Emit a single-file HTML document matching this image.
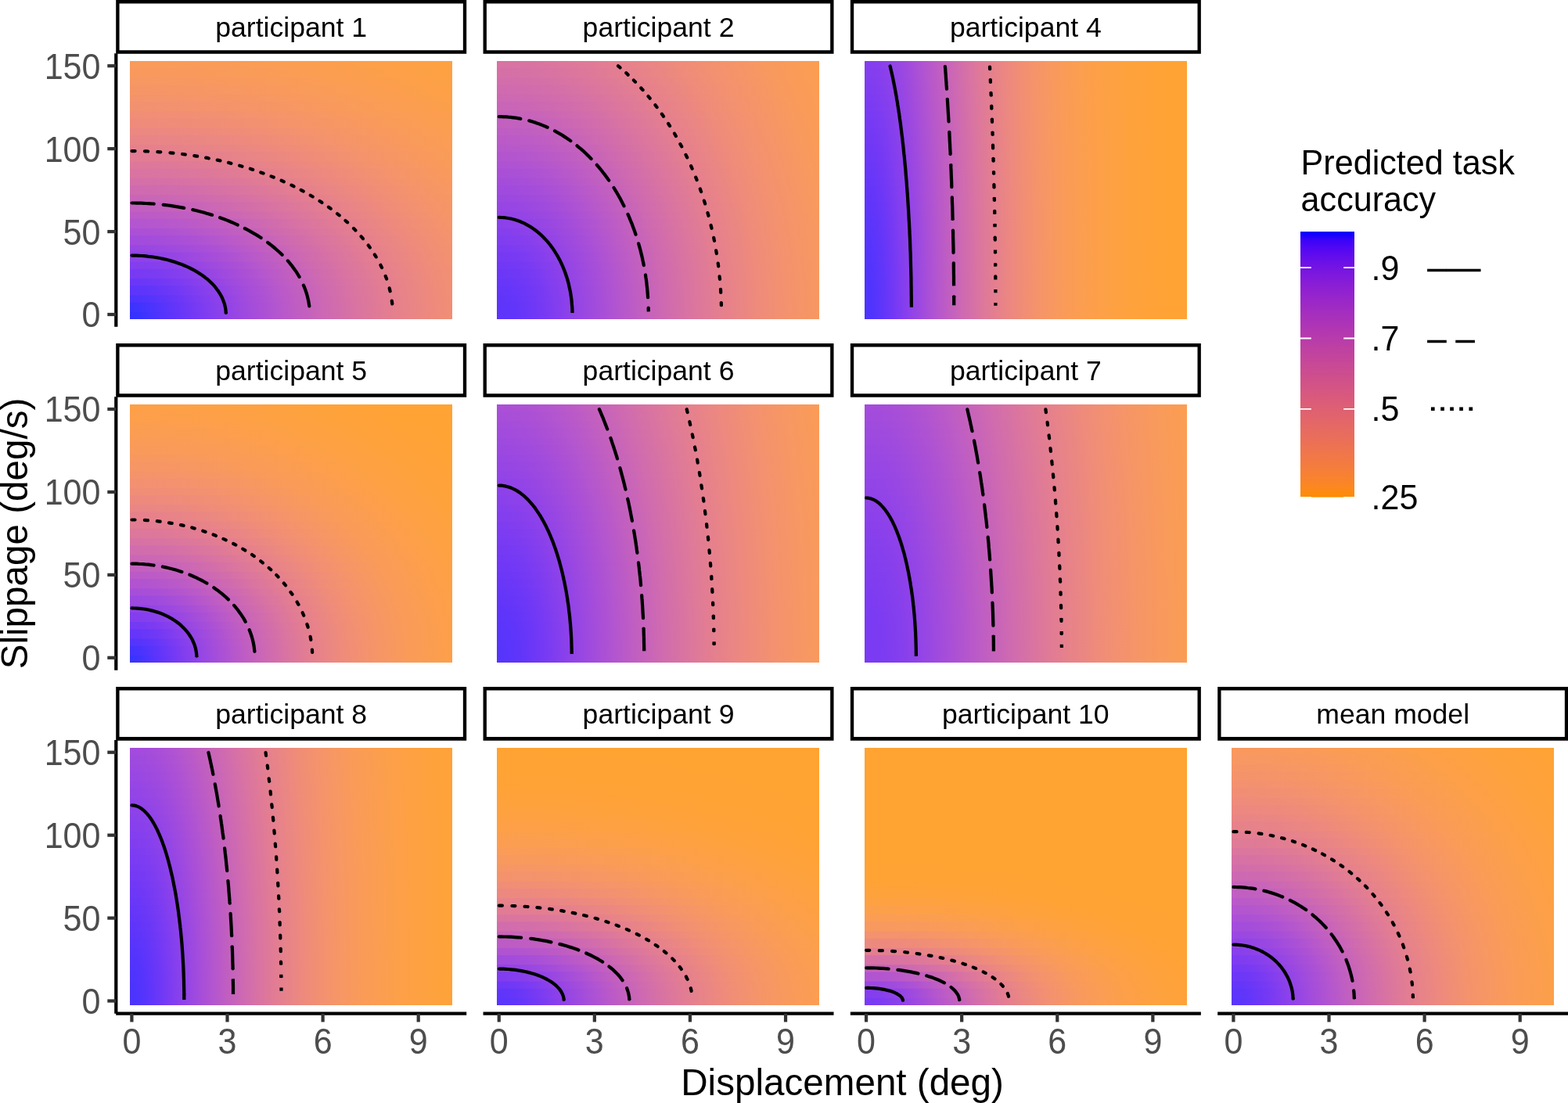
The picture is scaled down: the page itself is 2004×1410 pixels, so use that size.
<!DOCTYPE html>
<html lang="en"><head><meta charset="utf-8"><title>Predicted task accuracy</title>
<style>html,body{margin:0;padding:0;background:#fff}svg{display:block}text{font-family:"Liberation Sans",Arimo,Arial,sans-serif}</style>
</head><body>
<svg width="2004" height="1410" viewBox="0 0 2004 1410">
<defs><radialGradient id="g0" gradientUnits="userSpaceOnUse" cx="0" cy="0" r="1" gradientTransform="matrix(665.599 0 0 413.948 167.03 402)"><stop offset="0" stop-color="#3333ff"/><stop offset="0.0213" stop-color="#3a33ff"/><stop offset="0.0426" stop-color="#4834fe"/><stop offset="0.0638" stop-color="#5534fc"/><stop offset="0.0851" stop-color="#6135fa"/><stop offset="0.1064" stop-color="#6c37f7"/><stop offset="0.1277" stop-color="#773af3"/><stop offset="0.1489" stop-color="#813df0"/><stop offset="0.1702" stop-color="#8a41eb"/><stop offset="0.1915" stop-color="#9344e6"/><stop offset="0.2128" stop-color="#9c48e1"/><stop offset="0.234" stop-color="#a44cdb"/><stop offset="0.2553" stop-color="#ab50d6"/><stop offset="0.2766" stop-color="#b255d0"/><stop offset="0.2979" stop-color="#b959ca"/><stop offset="0.3191" stop-color="#bf5dc3"/><stop offset="0.3404" stop-color="#c461bd"/><stop offset="0.3617" stop-color="#ca66b7"/><stop offset="0.383" stop-color="#cf6ab0"/><stop offset="0.4043" stop-color="#d36eaa"/><stop offset="0.4255" stop-color="#d872a4"/><stop offset="0.4468" stop-color="#db769e"/><stop offset="0.4681" stop-color="#df7998"/><stop offset="0.4894" stop-color="#e27d93"/><stop offset="0.5106" stop-color="#e5808d"/><stop offset="0.5319" stop-color="#e88488"/><stop offset="0.5532" stop-color="#ea8783"/><stop offset="0.5745" stop-color="#ed897e"/><stop offset="0.5957" stop-color="#ef8c79"/><stop offset="0.617" stop-color="#f18e75"/><stop offset="0.6383" stop-color="#f29170"/><stop offset="0.6596" stop-color="#f4936c"/><stop offset="0.6809" stop-color="#f59568"/><stop offset="0.7021" stop-color="#f69664"/><stop offset="0.7234" stop-color="#f89861"/><stop offset="0.7447" stop-color="#f9995d"/><stop offset="0.766" stop-color="#f99b5a"/><stop offset="0.7872" stop-color="#fa9c57"/><stop offset="0.8085" stop-color="#fb9d54"/><stop offset="0.8298" stop-color="#fb9e51"/><stop offset="0.8511" stop-color="#fc9e4e"/><stop offset="0.8723" stop-color="#fc9f4c"/><stop offset="0.8936" stop-color="#fda049"/><stop offset="0.9149" stop-color="#fda047"/><stop offset="0.9362" stop-color="#fda145"/><stop offset="0.9574" stop-color="#fea143"/><stop offset="0.9787" stop-color="#fea141"/><stop offset="1" stop-color="#fea23f"/></radialGradient>
<clipPath id="k0"><rect x="166" y="78" width="412" height="330"/></clipPath>
<radialGradient id="g0_0" href="#g0" gradientTransform="matrix(665.599 0 0 100000 167.03 76849.82)"/>
<radialGradient id="g0_1" href="#g0" gradientTransform="matrix(665.599 0 0 100000 167.03 74300.1)"/>
<radialGradient id="g0_2" href="#g0" gradientTransform="matrix(665.599 0 0 100000 167.03 71753.42)"/>
<radialGradient id="g0_3" href="#g0" gradientTransform="matrix(665.599 0 0 100000 167.03 69203.7)"/>
<radialGradient id="g0_4" href="#g0" gradientTransform="matrix(665.599 0 0 100000 167.03 66657.02)"/>
<radialGradient id="g0_5" href="#g0" gradientTransform="matrix(665.599 0 0 100000 167.03 64107.3)"/>
<radialGradient id="g0_6" href="#g0" gradientTransform="matrix(665.599 0 0 100000 167.03 61560.63)"/>
<radialGradient id="g0_7" href="#g0" gradientTransform="matrix(665.599 0 0 100000 167.03 59010.9)"/>
<radialGradient id="g0_8" href="#g0" gradientTransform="matrix(665.599 0 0 100000 167.03 56464.23)"/>
<radialGradient id="g0_9" href="#g0" gradientTransform="matrix(665.599 0 0 100000 167.03 53914.5)"/>
<radialGradient id="g0_10" href="#g0" gradientTransform="matrix(665.599 0 0 100000 167.03 51367.83)"/>
<radialGradient id="g0_11" href="#g0" gradientTransform="matrix(665.599 0 0 100000 167.03 48818.1)"/>
<radialGradient id="g0_12" href="#g0" gradientTransform="matrix(665.599 0 0 100000 167.03 46271.43)"/>
<radialGradient id="g0_13" href="#g0" gradientTransform="matrix(665.599 0 0 100000 167.03 43721.7)"/>
<radialGradient id="g0_14" href="#g0" gradientTransform="matrix(665.599 0 0 100000 167.03 41175.03)"/>
<radialGradient id="g0_15" href="#g0" gradientTransform="matrix(665.599 0 0 100000 167.03 38625.3)"/>
<radialGradient id="g0_16" href="#g0" gradientTransform="matrix(665.599 0 0 100000 167.03 36078.63)"/>
<radialGradient id="g0_17" href="#g0" gradientTransform="matrix(665.599 0 0 100000 167.03 33528.9)"/>
<radialGradient id="g0_18" href="#g0" gradientTransform="matrix(665.599 0 0 100000 167.03 30982.23)"/>
<radialGradient id="g0_19" href="#g0" gradientTransform="matrix(665.599 0 0 100000 167.03 28432.5)"/>
<radialGradient id="g0_20" href="#g0" gradientTransform="matrix(665.599 0 0 100000 167.03 25885.83)"/>
<radialGradient id="g0_21" href="#g0" gradientTransform="matrix(665.599 0 0 100000 167.03 23336.1)"/>
<radialGradient id="g0_22" href="#g0" gradientTransform="matrix(665.599 0 0 100000 167.03 20789.43)"/>
<radialGradient id="g0_23" href="#g0" gradientTransform="matrix(665.599 0 0 100000 167.03 18239.7)"/>
<radialGradient id="g0_24" href="#g0" gradientTransform="matrix(665.599 0 0 100000 167.03 15693.03)"/>
<radialGradient id="g0_25" href="#g0" gradientTransform="matrix(665.599 0 0 100000 167.03 13143.3)"/>
<radialGradient id="g0_26" href="#g0" gradientTransform="matrix(665.599 0 0 100000 167.03 10596.63)"/>
<radialGradient id="g0_27" href="#g0" gradientTransform="matrix(665.599 0 0 100000 167.03 8046.9)"/>
<radialGradient id="g0_28" href="#g0" gradientTransform="matrix(665.599 0 0 100000 167.03 5500.23)"/>
<radialGradient id="g0_29" href="#g0" gradientTransform="matrix(665.599 0 0 100000 167.03 2950.51)"/>
<radialGradient id="g0_30" href="#g0" gradientTransform="matrix(665.599 0 0 100000 167.03 403.83)"/>
<radialGradient id="g1" gradientUnits="userSpaceOnUse" cx="0" cy="0" r="1" gradientTransform="matrix(481.906 0 0 633.279 636.03 402)"><stop offset="0" stop-color="#5d35fb"/><stop offset="0.0213" stop-color="#5e35fa"/><stop offset="0.0426" stop-color="#6135fa"/><stop offset="0.0638" stop-color="#6636f9"/><stop offset="0.0851" stop-color="#6c37f7"/><stop offset="0.1064" stop-color="#7239f5"/><stop offset="0.1277" stop-color="#793af3"/><stop offset="0.1489" stop-color="#803df0"/><stop offset="0.1702" stop-color="#873fed"/><stop offset="0.1915" stop-color="#8e42e9"/><stop offset="0.2128" stop-color="#9545e5"/><stop offset="0.234" stop-color="#9b48e1"/><stop offset="0.2553" stop-color="#a14bdd"/><stop offset="0.2766" stop-color="#a74ed9"/><stop offset="0.2979" stop-color="#ad52d4"/><stop offset="0.3191" stop-color="#b355cf"/><stop offset="0.3404" stop-color="#b859ca"/><stop offset="0.3617" stop-color="#bd5cc5"/><stop offset="0.383" stop-color="#c260c0"/><stop offset="0.4043" stop-color="#c663bb"/><stop offset="0.4255" stop-color="#cb66b5"/><stop offset="0.4468" stop-color="#cf6ab0"/><stop offset="0.4681" stop-color="#d36dab"/><stop offset="0.4894" stop-color="#d671a6"/><stop offset="0.5106" stop-color="#d974a1"/><stop offset="0.5319" stop-color="#dd779c"/><stop offset="0.5532" stop-color="#df7a98"/><stop offset="0.5745" stop-color="#e27d93"/><stop offset="0.5957" stop-color="#e5808e"/><stop offset="0.617" stop-color="#e7828a"/><stop offset="0.6383" stop-color="#e98586"/><stop offset="0.6596" stop-color="#eb8781"/><stop offset="0.6809" stop-color="#ed8a7d"/><stop offset="0.7021" stop-color="#ef8c79"/><stop offset="0.7234" stop-color="#f08e76"/><stop offset="0.7447" stop-color="#f29072"/><stop offset="0.766" stop-color="#f3926e"/><stop offset="0.7872" stop-color="#f4936b"/><stop offset="0.8085" stop-color="#f59568"/><stop offset="0.8298" stop-color="#f69665"/><stop offset="0.8511" stop-color="#f79862"/><stop offset="0.8723" stop-color="#f8995f"/><stop offset="0.8936" stop-color="#f99a5c"/><stop offset="0.9149" stop-color="#fa9b59"/><stop offset="0.9362" stop-color="#fa9c57"/><stop offset="0.9574" stop-color="#fb9d54"/><stop offset="0.9787" stop-color="#fb9d52"/><stop offset="1" stop-color="#fc9e4f"/></radialGradient>
<clipPath id="k1"><rect x="635" y="78" width="412" height="330"/></clipPath>
<radialGradient id="g1_0" href="#g1" gradientTransform="matrix(481.906 0 0 100000 636.03 50262.34)"/>
<radialGradient id="g1_1" href="#g1" gradientTransform="matrix(481.906 0 0 100000 636.03 48598.86)"/>
<radialGradient id="g1_2" href="#g1" gradientTransform="matrix(481.906 0 0 100000 636.03 46938.44)"/>
<radialGradient id="g1_3" href="#g1" gradientTransform="matrix(481.906 0 0 100000 636.03 45274.96)"/>
<radialGradient id="g1_4" href="#g1" gradientTransform="matrix(481.906 0 0 100000 636.03 43614.54)"/>
<radialGradient id="g1_5" href="#g1" gradientTransform="matrix(481.906 0 0 100000 636.03 41951.06)"/>
<radialGradient id="g1_6" href="#g1" gradientTransform="matrix(481.906 0 0 100000 636.03 40290.64)"/>
<radialGradient id="g1_7" href="#g1" gradientTransform="matrix(481.906 0 0 100000 636.03 38627.16)"/>
<radialGradient id="g1_8" href="#g1" gradientTransform="matrix(481.906 0 0 100000 636.03 36966.74)"/>
<radialGradient id="g1_9" href="#g1" gradientTransform="matrix(481.906 0 0 100000 636.03 35303.26)"/>
<radialGradient id="g1_10" href="#g1" gradientTransform="matrix(481.906 0 0 100000 636.03 33642.84)"/>
<radialGradient id="g1_11" href="#g1" gradientTransform="matrix(481.906 0 0 100000 636.03 31979.36)"/>
<radialGradient id="g1_12" href="#g1" gradientTransform="matrix(481.906 0 0 100000 636.03 30318.94)"/>
<radialGradient id="g1_13" href="#g1" gradientTransform="matrix(481.906 0 0 100000 636.03 28655.46)"/>
<radialGradient id="g1_14" href="#g1" gradientTransform="matrix(481.906 0 0 100000 636.03 26995.04)"/>
<radialGradient id="g1_15" href="#g1" gradientTransform="matrix(481.906 0 0 100000 636.03 25331.56)"/>
<radialGradient id="g1_16" href="#g1" gradientTransform="matrix(481.906 0 0 100000 636.03 23671.14)"/>
<radialGradient id="g1_17" href="#g1" gradientTransform="matrix(481.906 0 0 100000 636.03 22007.66)"/>
<radialGradient id="g1_18" href="#g1" gradientTransform="matrix(481.906 0 0 100000 636.03 20347.24)"/>
<radialGradient id="g1_19" href="#g1" gradientTransform="matrix(481.906 0 0 100000 636.03 18683.76)"/>
<radialGradient id="g1_20" href="#g1" gradientTransform="matrix(481.906 0 0 100000 636.03 17023.34)"/>
<radialGradient id="g1_21" href="#g1" gradientTransform="matrix(481.906 0 0 100000 636.03 15359.86)"/>
<radialGradient id="g1_22" href="#g1" gradientTransform="matrix(481.906 0 0 100000 636.03 13699.44)"/>
<radialGradient id="g1_23" href="#g1" gradientTransform="matrix(481.906 0 0 100000 636.03 12035.96)"/>
<radialGradient id="g1_24" href="#g1" gradientTransform="matrix(481.906 0 0 100000 636.03 10375.53)"/>
<radialGradient id="g1_25" href="#g1" gradientTransform="matrix(481.906 0 0 100000 636.03 8712.06)"/>
<radialGradient id="g1_26" href="#g1" gradientTransform="matrix(481.906 0 0 100000 636.03 7051.63)"/>
<radialGradient id="g1_27" href="#g1" gradientTransform="matrix(481.906 0 0 100000 636.03 5388.16)"/>
<radialGradient id="g1_28" href="#g1" gradientTransform="matrix(481.906 0 0 100000 636.03 3727.73)"/>
<radialGradient id="g1_29" href="#g1" gradientTransform="matrix(481.906 0 0 100000 636.03 2064.26)"/>
<radialGradient id="g1_30" href="#g1" gradientTransform="matrix(481.906 0 0 100000 636.03 403.83)"/>
<radialGradient id="g2" gradientUnits="userSpaceOnUse" cx="0" cy="0" r="1" gradientTransform="matrix(417.069 0 0 2676.447 1106.03 402)"><stop offset="0" stop-color="#4c34fd"/><stop offset="0.0213" stop-color="#5034fd"/><stop offset="0.0426" stop-color="#5a35fb"/><stop offset="0.0638" stop-color="#6536f9"/><stop offset="0.0851" stop-color="#7238f5"/><stop offset="0.1064" stop-color="#7e3cf1"/><stop offset="0.1277" stop-color="#8940ec"/><stop offset="0.1489" stop-color="#9445e6"/><stop offset="0.1702" stop-color="#9e49df"/><stop offset="0.1915" stop-color="#a84fd8"/><stop offset="0.2128" stop-color="#b154d1"/><stop offset="0.234" stop-color="#b959c9"/><stop offset="0.2553" stop-color="#c05ec2"/><stop offset="0.2766" stop-color="#c764ba"/><stop offset="0.2979" stop-color="#ce69b2"/><stop offset="0.3191" stop-color="#d36eaa"/><stop offset="0.3404" stop-color="#d973a3"/><stop offset="0.3617" stop-color="#dd789b"/><stop offset="0.383" stop-color="#e17c94"/><stop offset="0.4043" stop-color="#e5808d"/><stop offset="0.4255" stop-color="#e98486"/><stop offset="0.4468" stop-color="#ec8880"/><stop offset="0.4681" stop-color="#ee8b7a"/><stop offset="0.4894" stop-color="#f18e74"/><stop offset="0.5106" stop-color="#f3916f"/><stop offset="0.5319" stop-color="#f5946a"/><stop offset="0.5532" stop-color="#f69665"/><stop offset="0.5745" stop-color="#f89861"/><stop offset="0.5957" stop-color="#f99a5c"/><stop offset="0.617" stop-color="#fa9b58"/><stop offset="0.6383" stop-color="#fb9c54"/><stop offset="0.6596" stop-color="#fb9e51"/><stop offset="0.6809" stop-color="#fc9f4d"/><stop offset="0.7021" stop-color="#fd9f4a"/><stop offset="0.7234" stop-color="#fda047"/><stop offset="0.7447" stop-color="#fda145"/><stop offset="0.766" stop-color="#fea142"/><stop offset="0.7872" stop-color="#fea140"/><stop offset="0.8085" stop-color="#fea23d"/><stop offset="0.8298" stop-color="#fea23b"/><stop offset="0.8511" stop-color="#ffa23a"/><stop offset="0.8723" stop-color="#ffa238"/><stop offset="0.8936" stop-color="#ffa337"/><stop offset="0.9149" stop-color="#ffa336"/><stop offset="0.9362" stop-color="#ffa335"/><stop offset="0.9574" stop-color="#ffa335"/><stop offset="0.9787" stop-color="#ffa334"/><stop offset="1" stop-color="#ffa334"/></radialGradient>
<clipPath id="k2"><rect x="1105" y="78" width="412" height="330"/></clipPath>
<radialGradient id="g2_0" href="#g2" gradientTransform="matrix(417.069 0 0 100000 1106.03 11956.01)"/>
<radialGradient id="g2_1" href="#g2" gradientTransform="matrix(417.069 0 0 100000 1106.03 11569.41)"/>
<radialGradient id="g2_2" href="#g2" gradientTransform="matrix(417.069 0 0 100000 1106.03 11185.87)"/>
<radialGradient id="g2_3" href="#g2" gradientTransform="matrix(417.069 0 0 100000 1106.03 10799.27)"/>
<radialGradient id="g2_4" href="#g2" gradientTransform="matrix(417.069 0 0 100000 1106.03 10415.72)"/>
<radialGradient id="g2_5" href="#g2" gradientTransform="matrix(417.069 0 0 100000 1106.03 10029.12)"/>
<radialGradient id="g2_6" href="#g2" gradientTransform="matrix(417.069 0 0 100000 1106.03 9645.58)"/>
<radialGradient id="g2_7" href="#g2" gradientTransform="matrix(417.069 0 0 100000 1106.03 9258.98)"/>
<radialGradient id="g2_8" href="#g2" gradientTransform="matrix(417.069 0 0 100000 1106.03 8875.43)"/>
<radialGradient id="g2_9" href="#g2" gradientTransform="matrix(417.069 0 0 100000 1106.03 8488.83)"/>
<radialGradient id="g2_10" href="#g2" gradientTransform="matrix(417.069 0 0 100000 1106.03 8105.29)"/>
<radialGradient id="g2_11" href="#g2" gradientTransform="matrix(417.069 0 0 100000 1106.03 7718.69)"/>
<radialGradient id="g2_12" href="#g2" gradientTransform="matrix(417.069 0 0 100000 1106.03 7335.14)"/>
<radialGradient id="g2_13" href="#g2" gradientTransform="matrix(417.069 0 0 100000 1106.03 6948.54)"/>
<radialGradient id="g2_14" href="#g2" gradientTransform="matrix(417.069 0 0 100000 1106.03 6565)"/>
<radialGradient id="g2_15" href="#g2" gradientTransform="matrix(417.069 0 0 100000 1106.03 6178.4)"/>
<radialGradient id="g2_16" href="#g2" gradientTransform="matrix(417.069 0 0 100000 1106.03 5794.85)"/>
<radialGradient id="g2_17" href="#g2" gradientTransform="matrix(417.069 0 0 100000 1106.03 5408.25)"/>
<radialGradient id="g2_18" href="#g2" gradientTransform="matrix(417.069 0 0 100000 1106.03 5024.71)"/>
<radialGradient id="g2_19" href="#g2" gradientTransform="matrix(417.069 0 0 100000 1106.03 4638.11)"/>
<radialGradient id="g2_20" href="#g2" gradientTransform="matrix(417.069 0 0 100000 1106.03 4254.56)"/>
<radialGradient id="g2_21" href="#g2" gradientTransform="matrix(417.069 0 0 100000 1106.03 3867.96)"/>
<radialGradient id="g2_22" href="#g2" gradientTransform="matrix(417.069 0 0 100000 1106.03 3484.42)"/>
<radialGradient id="g2_23" href="#g2" gradientTransform="matrix(417.069 0 0 100000 1106.03 3097.81)"/>
<radialGradient id="g2_24" href="#g2" gradientTransform="matrix(417.069 0 0 100000 1106.03 2714.27)"/>
<radialGradient id="g2_25" href="#g2" gradientTransform="matrix(417.069 0 0 100000 1106.03 2327.67)"/>
<radialGradient id="g2_26" href="#g2" gradientTransform="matrix(417.069 0 0 100000 1106.03 1944.12)"/>
<radialGradient id="g2_27" href="#g2" gradientTransform="matrix(417.069 0 0 100000 1106.03 1557.52)"/>
<radialGradient id="g2_28" href="#g2" gradientTransform="matrix(417.069 0 0 100000 1106.03 1173.98)"/>
<radialGradient id="g2_29" href="#g2" gradientTransform="matrix(417.069 0 0 100000 1106.03 787.38)"/>
<radialGradient id="g2_30" href="#g2" gradientTransform="matrix(417.069 0 0 100000 1106.03 403.83)"/>
<radialGradient id="g3" gradientUnits="userSpaceOnUse" cx="0" cy="0" r="1" gradientTransform="matrix(595.119 0 0 451.2 167.03 840.8)"><stop offset="0" stop-color="#3833ff"/><stop offset="0.0213" stop-color="#4233fe"/><stop offset="0.0426" stop-color="#5134fd"/><stop offset="0.0638" stop-color="#6035fa"/><stop offset="0.0851" stop-color="#6e38f6"/><stop offset="0.1064" stop-color="#7c3bf2"/><stop offset="0.1277" stop-color="#8840ec"/><stop offset="0.1489" stop-color="#9445e6"/><stop offset="0.1702" stop-color="#9e4adf"/><stop offset="0.1915" stop-color="#a84fd8"/><stop offset="0.2128" stop-color="#b254d0"/><stop offset="0.234" stop-color="#ba5ac8"/><stop offset="0.2553" stop-color="#c25fc0"/><stop offset="0.2766" stop-color="#c965b8"/><stop offset="0.2979" stop-color="#cf6ab0"/><stop offset="0.3191" stop-color="#d56fa8"/><stop offset="0.3404" stop-color="#da75a0"/><stop offset="0.3617" stop-color="#df7998"/><stop offset="0.383" stop-color="#e37e91"/><stop offset="0.4043" stop-color="#e7828a"/><stop offset="0.4255" stop-color="#ea8684"/><stop offset="0.4468" stop-color="#ed8a7d"/><stop offset="0.4681" stop-color="#f08d77"/><stop offset="0.4894" stop-color="#f29072"/><stop offset="0.5106" stop-color="#f4936c"/><stop offset="0.5319" stop-color="#f69567"/><stop offset="0.5532" stop-color="#f79762"/><stop offset="0.5745" stop-color="#f8995e"/><stop offset="0.5957" stop-color="#fa9b59"/><stop offset="0.617" stop-color="#fa9c56"/><stop offset="0.6383" stop-color="#fb9d52"/><stop offset="0.6596" stop-color="#fc9e4e"/><stop offset="0.6809" stop-color="#fd9f4b"/><stop offset="0.7021" stop-color="#fda048"/><stop offset="0.7234" stop-color="#fda145"/><stop offset="0.7447" stop-color="#fea142"/><stop offset="0.766" stop-color="#fea140"/><stop offset="0.7872" stop-color="#fea23e"/><stop offset="0.8085" stop-color="#fea23b"/><stop offset="0.8298" stop-color="#ffa23a"/><stop offset="0.8511" stop-color="#ffa238"/><stop offset="0.8723" stop-color="#ffa337"/><stop offset="0.8936" stop-color="#ffa336"/><stop offset="0.9149" stop-color="#ffa335"/><stop offset="0.9362" stop-color="#ffa335"/><stop offset="0.9574" stop-color="#ffa334"/><stop offset="0.9787" stop-color="#ffa334"/><stop offset="1" stop-color="#ffa334"/></radialGradient>
<clipPath id="k3"><rect x="166" y="517" width="412" height="330"/></clipPath>
<radialGradient id="g3_0" href="#g3" gradientTransform="matrix(595.119 0 0 100000 167.03 70950.78)"/>
<radialGradient id="g3_1" href="#g3" gradientTransform="matrix(595.119 0 0 100000 167.03 68612.32)"/>
<radialGradient id="g3_2" href="#g3" gradientTransform="matrix(595.119 0 0 100000 167.03 66276.92)"/>
<radialGradient id="g3_3" href="#g3" gradientTransform="matrix(595.119 0 0 100000 167.03 63938.46)"/>
<radialGradient id="g3_4" href="#g3" gradientTransform="matrix(595.119 0 0 100000 167.03 61603.05)"/>
<radialGradient id="g3_5" href="#g3" gradientTransform="matrix(595.119 0 0 100000 167.03 59264.59)"/>
<radialGradient id="g3_6" href="#g3" gradientTransform="matrix(595.119 0 0 100000 167.03 56929.19)"/>
<radialGradient id="g3_7" href="#g3" gradientTransform="matrix(595.119 0 0 100000 167.03 54590.73)"/>
<radialGradient id="g3_8" href="#g3" gradientTransform="matrix(595.119 0 0 100000 167.03 52255.33)"/>
<radialGradient id="g3_9" href="#g3" gradientTransform="matrix(595.119 0 0 100000 167.03 49916.87)"/>
<radialGradient id="g3_10" href="#g3" gradientTransform="matrix(595.119 0 0 100000 167.03 47581.46)"/>
<radialGradient id="g3_11" href="#g3" gradientTransform="matrix(595.119 0 0 100000 167.03 45243)"/>
<radialGradient id="g3_12" href="#g3" gradientTransform="matrix(595.119 0 0 100000 167.03 42907.6)"/>
<radialGradient id="g3_13" href="#g3" gradientTransform="matrix(595.119 0 0 100000 167.03 40569.14)"/>
<radialGradient id="g3_14" href="#g3" gradientTransform="matrix(595.119 0 0 100000 167.03 38233.74)"/>
<radialGradient id="g3_15" href="#g3" gradientTransform="matrix(595.119 0 0 100000 167.03 35895.28)"/>
<radialGradient id="g3_16" href="#g3" gradientTransform="matrix(595.119 0 0 100000 167.03 33559.87)"/>
<radialGradient id="g3_17" href="#g3" gradientTransform="matrix(595.119 0 0 100000 167.03 31221.42)"/>
<radialGradient id="g3_18" href="#g3" gradientTransform="matrix(595.119 0 0 100000 167.03 28886.01)"/>
<radialGradient id="g3_19" href="#g3" gradientTransform="matrix(595.119 0 0 100000 167.03 26547.55)"/>
<radialGradient id="g3_20" href="#g3" gradientTransform="matrix(595.119 0 0 100000 167.03 24212.15)"/>
<radialGradient id="g3_21" href="#g3" gradientTransform="matrix(595.119 0 0 100000 167.03 21873.69)"/>
<radialGradient id="g3_22" href="#g3" gradientTransform="matrix(595.119 0 0 100000 167.03 19538.29)"/>
<radialGradient id="g3_23" href="#g3" gradientTransform="matrix(595.119 0 0 100000 167.03 17199.83)"/>
<radialGradient id="g3_24" href="#g3" gradientTransform="matrix(595.119 0 0 100000 167.03 14864.42)"/>
<radialGradient id="g3_25" href="#g3" gradientTransform="matrix(595.119 0 0 100000 167.03 12525.96)"/>
<radialGradient id="g3_26" href="#g3" gradientTransform="matrix(595.119 0 0 100000 167.03 10190.56)"/>
<radialGradient id="g3_27" href="#g3" gradientTransform="matrix(595.119 0 0 100000 167.03 7852.1)"/>
<radialGradient id="g3_28" href="#g3" gradientTransform="matrix(595.119 0 0 100000 167.03 5516.7)"/>
<radialGradient id="g3_29" href="#g3" gradientTransform="matrix(595.119 0 0 100000 167.03 3178.24)"/>
<radialGradient id="g3_30" href="#g3" gradientTransform="matrix(595.119 0 0 100000 167.03 842.83)"/>
<radialGradient id="g4" gradientUnits="userSpaceOnUse" cx="0" cy="0" r="1" gradientTransform="matrix(436.36 0 0 1025.684 636.03 840.8)"><stop offset="0" stop-color="#5734fc"/><stop offset="0.0213" stop-color="#5835fb"/><stop offset="0.0426" stop-color="#5b35fb"/><stop offset="0.0638" stop-color="#6035fa"/><stop offset="0.0851" stop-color="#6636f8"/><stop offset="0.1064" stop-color="#6d37f7"/><stop offset="0.1277" stop-color="#7339f5"/><stop offset="0.1489" stop-color="#7a3bf2"/><stop offset="0.1702" stop-color="#813def"/><stop offset="0.1915" stop-color="#8840ec"/><stop offset="0.2128" stop-color="#8f42e9"/><stop offset="0.234" stop-color="#9545e5"/><stop offset="0.2553" stop-color="#9b48e1"/><stop offset="0.2766" stop-color="#a14bdd"/><stop offset="0.2979" stop-color="#a74ed9"/><stop offset="0.3191" stop-color="#ad51d4"/><stop offset="0.3404" stop-color="#b255d0"/><stop offset="0.3617" stop-color="#b758cb"/><stop offset="0.383" stop-color="#bc5bc6"/><stop offset="0.4043" stop-color="#c15fc1"/><stop offset="0.4255" stop-color="#c562bc"/><stop offset="0.4468" stop-color="#c965b8"/><stop offset="0.4681" stop-color="#cd68b3"/><stop offset="0.4894" stop-color="#d16cae"/><stop offset="0.5106" stop-color="#d46fa9"/><stop offset="0.5319" stop-color="#d772a4"/><stop offset="0.5532" stop-color="#da75a0"/><stop offset="0.5745" stop-color="#dd789b"/><stop offset="0.5957" stop-color="#e07b97"/><stop offset="0.617" stop-color="#e27d92"/><stop offset="0.6383" stop-color="#e5808e"/><stop offset="0.6596" stop-color="#e7828a"/><stop offset="0.6809" stop-color="#e98586"/><stop offset="0.7021" stop-color="#eb8782"/><stop offset="0.7234" stop-color="#ed897e"/><stop offset="0.7447" stop-color="#ee8b7a"/><stop offset="0.766" stop-color="#f08d77"/><stop offset="0.7872" stop-color="#f18f73"/><stop offset="0.8085" stop-color="#f39170"/><stop offset="0.8298" stop-color="#f4936c"/><stop offset="0.8511" stop-color="#f59469"/><stop offset="0.8723" stop-color="#f69566"/><stop offset="0.8936" stop-color="#f79763"/><stop offset="0.9149" stop-color="#f89861"/><stop offset="0.9362" stop-color="#f8995e"/><stop offset="0.9574" stop-color="#f99a5b"/><stop offset="0.9787" stop-color="#fa9b59"/><stop offset="1" stop-color="#fa9c56"/></radialGradient>
<clipPath id="k4"><rect x="635" y="517" width="412" height="330"/></clipPath>
<radialGradient id="g4_0" href="#g4" gradientTransform="matrix(436.36 0 0 100000 636.03 31503.76)"/>
<radialGradient id="g4_1" href="#g4" gradientTransform="matrix(436.36 0 0 100000 636.03 30480.2)"/>
<radialGradient id="g4_2" href="#g4" gradientTransform="matrix(436.36 0 0 100000 636.03 29459.7)"/>
<radialGradient id="g4_3" href="#g4" gradientTransform="matrix(436.36 0 0 100000 636.03 28436.14)"/>
<radialGradient id="g4_4" href="#g4" gradientTransform="matrix(436.36 0 0 100000 636.03 27415.64)"/>
<radialGradient id="g4_5" href="#g4" gradientTransform="matrix(436.36 0 0 100000 636.03 26392.08)"/>
<radialGradient id="g4_6" href="#g4" gradientTransform="matrix(436.36 0 0 100000 636.03 25371.58)"/>
<radialGradient id="g4_7" href="#g4" gradientTransform="matrix(436.36 0 0 100000 636.03 24348.02)"/>
<radialGradient id="g4_8" href="#g4" gradientTransform="matrix(436.36 0 0 100000 636.03 23327.51)"/>
<radialGradient id="g4_9" href="#g4" gradientTransform="matrix(436.36 0 0 100000 636.03 22303.96)"/>
<radialGradient id="g4_10" href="#g4" gradientTransform="matrix(436.36 0 0 100000 636.03 21283.45)"/>
<radialGradient id="g4_11" href="#g4" gradientTransform="matrix(436.36 0 0 100000 636.03 20259.89)"/>
<radialGradient id="g4_12" href="#g4" gradientTransform="matrix(436.36 0 0 100000 636.03 19239.39)"/>
<radialGradient id="g4_13" href="#g4" gradientTransform="matrix(436.36 0 0 100000 636.03 18215.83)"/>
<radialGradient id="g4_14" href="#g4" gradientTransform="matrix(436.36 0 0 100000 636.03 17195.33)"/>
<radialGradient id="g4_15" href="#g4" gradientTransform="matrix(436.36 0 0 100000 636.03 16171.77)"/>
<radialGradient id="g4_16" href="#g4" gradientTransform="matrix(436.36 0 0 100000 636.03 15151.27)"/>
<radialGradient id="g4_17" href="#g4" gradientTransform="matrix(436.36 0 0 100000 636.03 14127.71)"/>
<radialGradient id="g4_18" href="#g4" gradientTransform="matrix(436.36 0 0 100000 636.03 13107.2)"/>
<radialGradient id="g4_19" href="#g4" gradientTransform="matrix(436.36 0 0 100000 636.03 12083.65)"/>
<radialGradient id="g4_20" href="#g4" gradientTransform="matrix(436.36 0 0 100000 636.03 11063.14)"/>
<radialGradient id="g4_21" href="#g4" gradientTransform="matrix(436.36 0 0 100000 636.03 10039.58)"/>
<radialGradient id="g4_22" href="#g4" gradientTransform="matrix(436.36 0 0 100000 636.03 9019.08)"/>
<radialGradient id="g4_23" href="#g4" gradientTransform="matrix(436.36 0 0 100000 636.03 7995.52)"/>
<radialGradient id="g4_24" href="#g4" gradientTransform="matrix(436.36 0 0 100000 636.03 6975.02)"/>
<radialGradient id="g4_25" href="#g4" gradientTransform="matrix(436.36 0 0 100000 636.03 5951.46)"/>
<radialGradient id="g4_26" href="#g4" gradientTransform="matrix(436.36 0 0 100000 636.03 4930.96)"/>
<radialGradient id="g4_27" href="#g4" gradientTransform="matrix(436.36 0 0 100000 636.03 3907.4)"/>
<radialGradient id="g4_28" href="#g4" gradientTransform="matrix(436.36 0 0 100000 636.03 2886.9)"/>
<radialGradient id="g4_29" href="#g4" gradientTransform="matrix(436.36 0 0 100000 636.03 1863.34)"/>
<radialGradient id="g4_30" href="#g4" gradientTransform="matrix(436.36 0 0 100000 636.03 842.83)"/>
<radialGradient id="g5" gradientUnits="userSpaceOnUse" cx="0" cy="0" r="1" gradientTransform="matrix(426.362 0 0 1355.826 1106.03 840.8)"><stop offset="0" stop-color="#793af2"/><stop offset="0.0213" stop-color="#7a3bf2"/><stop offset="0.0426" stop-color="#7b3bf2"/><stop offset="0.0638" stop-color="#7e3cf1"/><stop offset="0.0851" stop-color="#813def"/><stop offset="0.1064" stop-color="#853fed"/><stop offset="0.1277" stop-color="#8a40eb"/><stop offset="0.1489" stop-color="#8f42e9"/><stop offset="0.1702" stop-color="#9445e6"/><stop offset="0.1915" stop-color="#9947e3"/><stop offset="0.2128" stop-color="#9e4adf"/><stop offset="0.234" stop-color="#a44cdb"/><stop offset="0.2553" stop-color="#a94fd7"/><stop offset="0.2766" stop-color="#ae52d3"/><stop offset="0.2979" stop-color="#b355cf"/><stop offset="0.3191" stop-color="#b858ca"/><stop offset="0.3404" stop-color="#bc5cc6"/><stop offset="0.3617" stop-color="#c15fc1"/><stop offset="0.383" stop-color="#c562bc"/><stop offset="0.4043" stop-color="#c965b7"/><stop offset="0.4255" stop-color="#cd68b3"/><stop offset="0.4468" stop-color="#d16cae"/><stop offset="0.4681" stop-color="#d46fa9"/><stop offset="0.4894" stop-color="#d772a4"/><stop offset="0.5106" stop-color="#db759f"/><stop offset="0.5319" stop-color="#dd789b"/><stop offset="0.5532" stop-color="#e07b96"/><stop offset="0.5745" stop-color="#e37d92"/><stop offset="0.5957" stop-color="#e5808d"/><stop offset="0.617" stop-color="#e78389"/><stop offset="0.6383" stop-color="#e98585"/><stop offset="0.6596" stop-color="#eb8781"/><stop offset="0.6809" stop-color="#ed8a7d"/><stop offset="0.7021" stop-color="#ef8c79"/><stop offset="0.7234" stop-color="#f08e76"/><stop offset="0.7447" stop-color="#f29072"/><stop offset="0.766" stop-color="#f3916f"/><stop offset="0.7872" stop-color="#f4936b"/><stop offset="0.8085" stop-color="#f59568"/><stop offset="0.8298" stop-color="#f69665"/><stop offset="0.8511" stop-color="#f79762"/><stop offset="0.8723" stop-color="#f8985f"/><stop offset="0.8936" stop-color="#f99a5d"/><stop offset="0.9149" stop-color="#f99b5a"/><stop offset="0.9362" stop-color="#fa9b57"/><stop offset="0.9574" stop-color="#fb9c55"/><stop offset="0.9787" stop-color="#fb9d53"/><stop offset="1" stop-color="#fc9e50"/></radialGradient>
<clipPath id="k5"><rect x="1105" y="517" width="412" height="330"/></clipPath>
<radialGradient id="g5_0" href="#g5" gradientTransform="matrix(426.362 0 0 100000 1106.03 23959.73)"/>
<radialGradient id="g5_1" href="#g5" gradientTransform="matrix(426.362 0 0 100000 1106.03 23187.64)"/>
<radialGradient id="g5_2" href="#g5" gradientTransform="matrix(426.362 0 0 100000 1106.03 22418.61)"/>
<radialGradient id="g5_3" href="#g5" gradientTransform="matrix(426.362 0 0 100000 1106.03 21646.52)"/>
<radialGradient id="g5_4" href="#g5" gradientTransform="matrix(426.362 0 0 100000 1106.03 20877.48)"/>
<radialGradient id="g5_5" href="#g5" gradientTransform="matrix(426.362 0 0 100000 1106.03 20105.39)"/>
<radialGradient id="g5_6" href="#g5" gradientTransform="matrix(426.362 0 0 100000 1106.03 19336.35)"/>
<radialGradient id="g5_7" href="#g5" gradientTransform="matrix(426.362 0 0 100000 1106.03 18564.26)"/>
<radialGradient id="g5_8" href="#g5" gradientTransform="matrix(426.362 0 0 100000 1106.03 17795.23)"/>
<radialGradient id="g5_9" href="#g5" gradientTransform="matrix(426.362 0 0 100000 1106.03 17023.14)"/>
<radialGradient id="g5_10" href="#g5" gradientTransform="matrix(426.362 0 0 100000 1106.03 16254.1)"/>
<radialGradient id="g5_11" href="#g5" gradientTransform="matrix(426.362 0 0 100000 1106.03 15482.01)"/>
<radialGradient id="g5_12" href="#g5" gradientTransform="matrix(426.362 0 0 100000 1106.03 14712.97)"/>
<radialGradient id="g5_13" href="#g5" gradientTransform="matrix(426.362 0 0 100000 1106.03 13940.88)"/>
<radialGradient id="g5_14" href="#g5" gradientTransform="matrix(426.362 0 0 100000 1106.03 13171.85)"/>
<radialGradient id="g5_15" href="#g5" gradientTransform="matrix(426.362 0 0 100000 1106.03 12399.76)"/>
<radialGradient id="g5_16" href="#g5" gradientTransform="matrix(426.362 0 0 100000 1106.03 11630.72)"/>
<radialGradient id="g5_17" href="#g5" gradientTransform="matrix(426.362 0 0 100000 1106.03 10858.63)"/>
<radialGradient id="g5_18" href="#g5" gradientTransform="matrix(426.362 0 0 100000 1106.03 10089.59)"/>
<radialGradient id="g5_19" href="#g5" gradientTransform="matrix(426.362 0 0 100000 1106.03 9317.5)"/>
<radialGradient id="g5_20" href="#g5" gradientTransform="matrix(426.362 0 0 100000 1106.03 8548.47)"/>
<radialGradient id="g5_21" href="#g5" gradientTransform="matrix(426.362 0 0 100000 1106.03 7776.38)"/>
<radialGradient id="g5_22" href="#g5" gradientTransform="matrix(426.362 0 0 100000 1106.03 7007.34)"/>
<radialGradient id="g5_23" href="#g5" gradientTransform="matrix(426.362 0 0 100000 1106.03 6235.25)"/>
<radialGradient id="g5_24" href="#g5" gradientTransform="matrix(426.362 0 0 100000 1106.03 5466.21)"/>
<radialGradient id="g5_25" href="#g5" gradientTransform="matrix(426.362 0 0 100000 1106.03 4694.12)"/>
<radialGradient id="g5_26" href="#g5" gradientTransform="matrix(426.362 0 0 100000 1106.03 3925.09)"/>
<radialGradient id="g5_27" href="#g5" gradientTransform="matrix(426.362 0 0 100000 1106.03 3153)"/>
<radialGradient id="g5_28" href="#g5" gradientTransform="matrix(426.362 0 0 100000 1106.03 2383.96)"/>
<radialGradient id="g5_29" href="#g5" gradientTransform="matrix(426.362 0 0 100000 1106.03 1611.87)"/>
<radialGradient id="g5_30" href="#g5" gradientTransform="matrix(426.362 0 0 100000 1106.03 842.83)"/>
<radialGradient id="g6" gradientUnits="userSpaceOnUse" cx="0" cy="0" r="1" gradientTransform="matrix(423.107 0 0 1570.58 167.03 1279.5)"><stop offset="0" stop-color="#4b34fd"/><stop offset="0.0213" stop-color="#4e34fd"/><stop offset="0.0426" stop-color="#5634fc"/><stop offset="0.0638" stop-color="#6135fa"/><stop offset="0.0851" stop-color="#6b37f7"/><stop offset="0.1064" stop-color="#763af4"/><stop offset="0.1277" stop-color="#803df0"/><stop offset="0.1489" stop-color="#8a41eb"/><stop offset="0.1702" stop-color="#9445e6"/><stop offset="0.1915" stop-color="#9d49e0"/><stop offset="0.2128" stop-color="#a64dda"/><stop offset="0.234" stop-color="#ae52d4"/><stop offset="0.2553" stop-color="#b557cd"/><stop offset="0.2766" stop-color="#bc5bc6"/><stop offset="0.2979" stop-color="#c260bf"/><stop offset="0.3191" stop-color="#c865b8"/><stop offset="0.3404" stop-color="#ce69b2"/><stop offset="0.3617" stop-color="#d36eab"/><stop offset="0.383" stop-color="#d872a4"/><stop offset="0.4043" stop-color="#dc769d"/><stop offset="0.4255" stop-color="#e07a97"/><stop offset="0.4468" stop-color="#e37e91"/><stop offset="0.4681" stop-color="#e6828b"/><stop offset="0.4894" stop-color="#e98585"/><stop offset="0.5106" stop-color="#ec8880"/><stop offset="0.5319" stop-color="#ee8b7a"/><stop offset="0.5532" stop-color="#f08e75"/><stop offset="0.5745" stop-color="#f29071"/><stop offset="0.5957" stop-color="#f4936c"/><stop offset="0.617" stop-color="#f59568"/><stop offset="0.6383" stop-color="#f79764"/><stop offset="0.6596" stop-color="#f89860"/><stop offset="0.6809" stop-color="#f99a5c"/><stop offset="0.7021" stop-color="#fa9b58"/><stop offset="0.7234" stop-color="#fb9c55"/><stop offset="0.7447" stop-color="#fb9d52"/><stop offset="0.766" stop-color="#fc9e4f"/><stop offset="0.7872" stop-color="#fc9f4c"/><stop offset="0.8085" stop-color="#fda049"/><stop offset="0.8298" stop-color="#fda047"/><stop offset="0.8511" stop-color="#fea144"/><stop offset="0.8723" stop-color="#fea142"/><stop offset="0.8936" stop-color="#fea140"/><stop offset="0.9149" stop-color="#fea23e"/><stop offset="0.9362" stop-color="#fea23c"/><stop offset="0.9574" stop-color="#fea23a"/><stop offset="0.9787" stop-color="#ffa239"/><stop offset="1" stop-color="#ffa238"/></radialGradient>
<clipPath id="k6"><rect x="166" y="956" width="412" height="329"/></clipPath>
<radialGradient id="g6_0" href="#g6" gradientTransform="matrix(423.107 0 0 100000 167.03 21193.98)"/>
<radialGradient id="g6_1" href="#g6" gradientTransform="matrix(423.107 0 0 100000 167.03 20528.68)"/>
<radialGradient id="g6_2" href="#g6" gradientTransform="matrix(423.107 0 0 100000 167.03 19866.43)"/>
<radialGradient id="g6_3" href="#g6" gradientTransform="matrix(423.107 0 0 100000 167.03 19201.14)"/>
<radialGradient id="g6_4" href="#g6" gradientTransform="matrix(423.107 0 0 100000 167.03 18538.89)"/>
<radialGradient id="g6_5" href="#g6" gradientTransform="matrix(423.107 0 0 100000 167.03 17873.6)"/>
<radialGradient id="g6_6" href="#g6" gradientTransform="matrix(423.107 0 0 100000 167.03 17211.35)"/>
<radialGradient id="g6_7" href="#g6" gradientTransform="matrix(423.107 0 0 100000 167.03 16546.06)"/>
<radialGradient id="g6_8" href="#g6" gradientTransform="matrix(423.107 0 0 100000 167.03 15883.81)"/>
<radialGradient id="g6_9" href="#g6" gradientTransform="matrix(423.107 0 0 100000 167.03 15218.52)"/>
<radialGradient id="g6_10" href="#g6" gradientTransform="matrix(423.107 0 0 100000 167.03 14556.27)"/>
<radialGradient id="g6_11" href="#g6" gradientTransform="matrix(423.107 0 0 100000 167.03 13890.98)"/>
<radialGradient id="g6_12" href="#g6" gradientTransform="matrix(423.107 0 0 100000 167.03 13228.73)"/>
<radialGradient id="g6_13" href="#g6" gradientTransform="matrix(423.107 0 0 100000 167.03 12563.44)"/>
<radialGradient id="g6_14" href="#g6" gradientTransform="matrix(423.107 0 0 100000 167.03 11901.19)"/>
<radialGradient id="g6_15" href="#g6" gradientTransform="matrix(423.107 0 0 100000 167.03 11235.9)"/>
<radialGradient id="g6_16" href="#g6" gradientTransform="matrix(423.107 0 0 100000 167.03 10573.65)"/>
<radialGradient id="g6_17" href="#g6" gradientTransform="matrix(423.107 0 0 100000 167.03 9908.35)"/>
<radialGradient id="g6_18" href="#g6" gradientTransform="matrix(423.107 0 0 100000 167.03 9246.11)"/>
<radialGradient id="g6_19" href="#g6" gradientTransform="matrix(423.107 0 0 100000 167.03 8580.81)"/>
<radialGradient id="g6_20" href="#g6" gradientTransform="matrix(423.107 0 0 100000 167.03 7918.57)"/>
<radialGradient id="g6_21" href="#g6" gradientTransform="matrix(423.107 0 0 100000 167.03 7253.27)"/>
<radialGradient id="g6_22" href="#g6" gradientTransform="matrix(423.107 0 0 100000 167.03 6591.02)"/>
<radialGradient id="g6_23" href="#g6" gradientTransform="matrix(423.107 0 0 100000 167.03 5925.73)"/>
<radialGradient id="g6_24" href="#g6" gradientTransform="matrix(423.107 0 0 100000 167.03 5263.48)"/>
<radialGradient id="g6_25" href="#g6" gradientTransform="matrix(423.107 0 0 100000 167.03 4598.19)"/>
<radialGradient id="g6_26" href="#g6" gradientTransform="matrix(423.107 0 0 100000 167.03 3935.94)"/>
<radialGradient id="g6_27" href="#g6" gradientTransform="matrix(423.107 0 0 100000 167.03 3270.65)"/>
<radialGradient id="g6_28" href="#g6" gradientTransform="matrix(423.107 0 0 100000 167.03 2608.4)"/>
<radialGradient id="g6_29" href="#g6" gradientTransform="matrix(423.107 0 0 100000 167.03 1943.11)"/>
<radialGradient id="g6_30" href="#g6" gradientTransform="matrix(423.107 0 0 100000 167.03 1280.86)"/>
<radialGradient id="g7" gradientUnits="userSpaceOnUse" cx="0" cy="0" r="1" gradientTransform="matrix(719.743 0 0 352.095 636.03 1279.5)"><stop offset="0" stop-color="#5935fb"/><stop offset="0.0213" stop-color="#5c35fb"/><stop offset="0.0426" stop-color="#6536f9"/><stop offset="0.0638" stop-color="#7138f5"/><stop offset="0.0851" stop-color="#7d3cf1"/><stop offset="0.1064" stop-color="#8a40eb"/><stop offset="0.1277" stop-color="#9645e5"/><stop offset="0.1489" stop-color="#a14bdd"/><stop offset="0.1702" stop-color="#ab51d6"/><stop offset="0.1915" stop-color="#b556cd"/><stop offset="0.2128" stop-color="#be5cc4"/><stop offset="0.234" stop-color="#c662bb"/><stop offset="0.2553" stop-color="#cd68b3"/><stop offset="0.2766" stop-color="#d46eaa"/><stop offset="0.2979" stop-color="#d974a1"/><stop offset="0.3191" stop-color="#df7999"/><stop offset="0.3404" stop-color="#e37e91"/><stop offset="0.3617" stop-color="#e78389"/><stop offset="0.383" stop-color="#eb8782"/><stop offset="0.4043" stop-color="#ee8b7b"/><stop offset="0.4255" stop-color="#f18f74"/><stop offset="0.4468" stop-color="#f3926e"/><stop offset="0.4681" stop-color="#f59568"/><stop offset="0.4894" stop-color="#f79763"/><stop offset="0.5106" stop-color="#f8995e"/><stop offset="0.5319" stop-color="#fa9b59"/><stop offset="0.5532" stop-color="#fb9c55"/><stop offset="0.5745" stop-color="#fc9e51"/><stop offset="0.5957" stop-color="#fc9f4d"/><stop offset="0.617" stop-color="#fda049"/><stop offset="0.6383" stop-color="#fda046"/><stop offset="0.6596" stop-color="#fea143"/><stop offset="0.6809" stop-color="#fea140"/><stop offset="0.7021" stop-color="#fea23e"/><stop offset="0.7234" stop-color="#fea23b"/><stop offset="0.7447" stop-color="#ffa239"/><stop offset="0.766" stop-color="#ffa238"/><stop offset="0.7872" stop-color="#ffa336"/><stop offset="0.8085" stop-color="#ffa336"/><stop offset="0.8298" stop-color="#ffa335"/><stop offset="0.8511" stop-color="#ffa334"/><stop offset="0.8723" stop-color="#ffa334"/><stop offset="0.8936" stop-color="#ffa334"/><stop offset="0.9149" stop-color="#ffa333"/><stop offset="0.9362" stop-color="#ffa333"/><stop offset="0.9574" stop-color="#ffa333"/><stop offset="0.9787" stop-color="#ffa333"/><stop offset="1" stop-color="#ffa333"/></radialGradient>
<clipPath id="k7"><rect x="635" y="956" width="412" height="329"/></clipPath>
<radialGradient id="g7_0" href="#g7" gradientTransform="matrix(719.743 0 0 100000 636.03 91213.71)"/>
<radialGradient id="g7_1" href="#g7" gradientTransform="matrix(719.743 0 0 100000 636.03 88214.42)"/>
<radialGradient id="g7_2" href="#g7" gradientTransform="matrix(719.743 0 0 100000 636.03 85218.18)"/>
<radialGradient id="g7_3" href="#g7" gradientTransform="matrix(719.743 0 0 100000 636.03 82218.9)"/>
<radialGradient id="g7_4" href="#g7" gradientTransform="matrix(719.743 0 0 100000 636.03 79222.66)"/>
<radialGradient id="g7_5" href="#g7" gradientTransform="matrix(719.743 0 0 100000 636.03 76223.38)"/>
<radialGradient id="g7_6" href="#g7" gradientTransform="matrix(719.743 0 0 100000 636.03 73227.14)"/>
<radialGradient id="g7_7" href="#g7" gradientTransform="matrix(719.743 0 0 100000 636.03 70227.85)"/>
<radialGradient id="g7_8" href="#g7" gradientTransform="matrix(719.743 0 0 100000 636.03 67231.62)"/>
<radialGradient id="g7_9" href="#g7" gradientTransform="matrix(719.743 0 0 100000 636.03 64232.33)"/>
<radialGradient id="g7_10" href="#g7" gradientTransform="matrix(719.743 0 0 100000 636.03 61236.09)"/>
<radialGradient id="g7_11" href="#g7" gradientTransform="matrix(719.743 0 0 100000 636.03 58236.81)"/>
<radialGradient id="g7_12" href="#g7" gradientTransform="matrix(719.743 0 0 100000 636.03 55240.57)"/>
<radialGradient id="g7_13" href="#g7" gradientTransform="matrix(719.743 0 0 100000 636.03 52241.28)"/>
<radialGradient id="g7_14" href="#g7" gradientTransform="matrix(719.743 0 0 100000 636.03 49245.05)"/>
<radialGradient id="g7_15" href="#g7" gradientTransform="matrix(719.743 0 0 100000 636.03 46245.76)"/>
<radialGradient id="g7_16" href="#g7" gradientTransform="matrix(719.743 0 0 100000 636.03 43249.52)"/>
<radialGradient id="g7_17" href="#g7" gradientTransform="matrix(719.743 0 0 100000 636.03 40250.24)"/>
<radialGradient id="g7_18" href="#g7" gradientTransform="matrix(719.743 0 0 100000 636.03 37254)"/>
<radialGradient id="g7_19" href="#g7" gradientTransform="matrix(719.743 0 0 100000 636.03 34254.72)"/>
<radialGradient id="g7_20" href="#g7" gradientTransform="matrix(719.743 0 0 100000 636.03 31258.48)"/>
<radialGradient id="g7_21" href="#g7" gradientTransform="matrix(719.743 0 0 100000 636.03 28259.19)"/>
<radialGradient id="g7_22" href="#g7" gradientTransform="matrix(719.743 0 0 100000 636.03 25262.95)"/>
<radialGradient id="g7_23" href="#g7" gradientTransform="matrix(719.743 0 0 100000 636.03 22263.67)"/>
<radialGradient id="g7_24" href="#g7" gradientTransform="matrix(719.743 0 0 100000 636.03 19267.43)"/>
<radialGradient id="g7_25" href="#g7" gradientTransform="matrix(719.743 0 0 100000 636.03 16268.15)"/>
<radialGradient id="g7_26" href="#g7" gradientTransform="matrix(719.743 0 0 100000 636.03 13271.91)"/>
<radialGradient id="g7_27" href="#g7" gradientTransform="matrix(719.743 0 0 100000 636.03 10272.62)"/>
<radialGradient id="g7_28" href="#g7" gradientTransform="matrix(719.743 0 0 100000 636.03 7276.38)"/>
<radialGradient id="g7_29" href="#g7" gradientTransform="matrix(719.743 0 0 100000 636.03 4277.1)"/>
<radialGradient id="g7_30" href="#g7" gradientTransform="matrix(719.743 0 0 100000 636.03 1280.86)"/>
<radialGradient id="g8" gradientUnits="userSpaceOnUse" cx="0" cy="0" r="1" gradientTransform="matrix(545.618 0 0 191.936 1106.03 1279.5)"><stop offset="0" stop-color="#793af3"/><stop offset="0.0213" stop-color="#7a3bf2"/><stop offset="0.0426" stop-color="#7f3cf0"/><stop offset="0.0638" stop-color="#863fed"/><stop offset="0.0851" stop-color="#8e42e9"/><stop offset="0.1064" stop-color="#9846e4"/><stop offset="0.1277" stop-color="#a14bdd"/><stop offset="0.1489" stop-color="#aa50d6"/><stop offset="0.1702" stop-color="#b355cf"/><stop offset="0.1915" stop-color="#bb5bc7"/><stop offset="0.2128" stop-color="#c360bf"/><stop offset="0.234" stop-color="#ca66b6"/><stop offset="0.2553" stop-color="#d16cae"/><stop offset="0.2766" stop-color="#d771a5"/><stop offset="0.2979" stop-color="#dc769d"/><stop offset="0.3191" stop-color="#e17b95"/><stop offset="0.3404" stop-color="#e5808d"/><stop offset="0.3617" stop-color="#e98586"/><stop offset="0.383" stop-color="#ec897f"/><stop offset="0.4043" stop-color="#ef8c78"/><stop offset="0.4255" stop-color="#f29072"/><stop offset="0.4468" stop-color="#f4936c"/><stop offset="0.4681" stop-color="#f69567"/><stop offset="0.4894" stop-color="#f79861"/><stop offset="0.5106" stop-color="#f99a5d"/><stop offset="0.5319" stop-color="#fa9b58"/><stop offset="0.5532" stop-color="#fb9d54"/><stop offset="0.5745" stop-color="#fc9e50"/><stop offset="0.5957" stop-color="#fc9f4c"/><stop offset="0.617" stop-color="#fda048"/><stop offset="0.6383" stop-color="#fda045"/><stop offset="0.6596" stop-color="#fea142"/><stop offset="0.6809" stop-color="#fea140"/><stop offset="0.7021" stop-color="#fea23d"/><stop offset="0.7234" stop-color="#fea23b"/><stop offset="0.7447" stop-color="#ffa239"/><stop offset="0.766" stop-color="#ffa237"/><stop offset="0.7872" stop-color="#ffa336"/><stop offset="0.8085" stop-color="#ffa335"/><stop offset="0.8298" stop-color="#ffa335"/><stop offset="0.8511" stop-color="#ffa334"/><stop offset="0.8723" stop-color="#ffa334"/><stop offset="0.8936" stop-color="#ffa334"/><stop offset="0.9149" stop-color="#ffa333"/><stop offset="0.9362" stop-color="#ffa333"/><stop offset="0.9574" stop-color="#ffa333"/><stop offset="0.9787" stop-color="#ffa333"/><stop offset="1" stop-color="#ffa333"/></radialGradient>
<clipPath id="k8"><rect x="1105" y="956" width="412" height="329"/></clipPath>
<radialGradient id="g8_0" href="#g8" gradientTransform="matrix(545.618 0 0 100000 1106.03 166523.91)"/>
<radialGradient id="g8_1" href="#g8" gradientTransform="matrix(545.618 0 0 100000 1106.03 161014.29)"/>
<radialGradient id="g8_2" href="#g8" gradientTransform="matrix(545.618 0 0 100000 1106.03 155507.71)"/>
<radialGradient id="g8_3" href="#g8" gradientTransform="matrix(545.618 0 0 100000 1106.03 149998.09)"/>
<radialGradient id="g8_4" href="#g8" gradientTransform="matrix(545.618 0 0 100000 1106.03 144491.51)"/>
<radialGradient id="g8_5" href="#g8" gradientTransform="matrix(545.618 0 0 100000 1106.03 138981.88)"/>
<radialGradient id="g8_6" href="#g8" gradientTransform="matrix(545.618 0 0 100000 1106.03 133475.3)"/>
<radialGradient id="g8_7" href="#g8" gradientTransform="matrix(545.618 0 0 100000 1106.03 127965.68)"/>
<radialGradient id="g8_8" href="#g8" gradientTransform="matrix(545.618 0 0 100000 1106.03 122459.1)"/>
<radialGradient id="g8_9" href="#g8" gradientTransform="matrix(545.618 0 0 100000 1106.03 116949.47)"/>
<radialGradient id="g8_10" href="#g8" gradientTransform="matrix(545.618 0 0 100000 1106.03 111442.9)"/>
<radialGradient id="g8_11" href="#g8" gradientTransform="matrix(545.618 0 0 100000 1106.03 105933.27)"/>
<radialGradient id="g8_12" href="#g8" gradientTransform="matrix(545.618 0 0 100000 1106.03 100426.69)"/>
<radialGradient id="g8_13" href="#g8" gradientTransform="matrix(545.618 0 0 100000 1106.03 94917.07)"/>
<radialGradient id="g8_14" href="#g8" gradientTransform="matrix(545.618 0 0 100000 1106.03 89410.49)"/>
<radialGradient id="g8_15" href="#g8" gradientTransform="matrix(545.618 0 0 100000 1106.03 83900.86)"/>
<radialGradient id="g8_16" href="#g8" gradientTransform="matrix(545.618 0 0 100000 1106.03 78394.29)"/>
<radialGradient id="g8_17" href="#g8" gradientTransform="matrix(545.618 0 0 100000 1106.03 72884.66)"/>
<radialGradient id="g8_18" href="#g8" gradientTransform="matrix(545.618 0 0 100000 1106.03 67378.08)"/>
<radialGradient id="g8_19" href="#g8" gradientTransform="matrix(545.618 0 0 100000 1106.03 61868.46)"/>
<radialGradient id="g8_20" href="#g8" gradientTransform="matrix(545.618 0 0 100000 1106.03 56361.88)"/>
<radialGradient id="g8_21" href="#g8" gradientTransform="matrix(545.618 0 0 100000 1106.03 50852.25)"/>
<radialGradient id="g8_22" href="#g8" gradientTransform="matrix(545.618 0 0 100000 1106.03 45345.68)"/>
<radialGradient id="g8_23" href="#g8" gradientTransform="matrix(545.618 0 0 100000 1106.03 39836.05)"/>
<radialGradient id="g8_24" href="#g8" gradientTransform="matrix(545.618 0 0 100000 1106.03 34329.47)"/>
<radialGradient id="g8_25" href="#g8" gradientTransform="matrix(545.618 0 0 100000 1106.03 28819.85)"/>
<radialGradient id="g8_26" href="#g8" gradientTransform="matrix(545.618 0 0 100000 1106.03 23313.27)"/>
<radialGradient id="g8_27" href="#g8" gradientTransform="matrix(545.618 0 0 100000 1106.03 17803.64)"/>
<radialGradient id="g8_28" href="#g8" gradientTransform="matrix(545.618 0 0 100000 1106.03 12297.06)"/>
<radialGradient id="g8_29" href="#g8" gradientTransform="matrix(545.618 0 0 100000 1106.03 6787.44)"/>
<radialGradient id="g8_30" href="#g8" gradientTransform="matrix(545.618 0 0 100000 1106.03 1280.86)"/>
<radialGradient id="g9" gradientUnits="userSpaceOnUse" cx="0" cy="0" r="1" gradientTransform="matrix(539.862 0 0 505.023 1575.03 1279.5)"><stop offset="0" stop-color="#5b35fb"/><stop offset="0.0213" stop-color="#5d35fa"/><stop offset="0.0426" stop-color="#6336f9"/><stop offset="0.0638" stop-color="#6c37f7"/><stop offset="0.0851" stop-color="#7539f4"/><stop offset="0.1064" stop-color="#7f3cf0"/><stop offset="0.1277" stop-color="#8940ec"/><stop offset="0.1489" stop-color="#9244e7"/><stop offset="0.1702" stop-color="#9b48e1"/><stop offset="0.1915" stop-color="#a44ddb"/><stop offset="0.2128" stop-color="#ac51d5"/><stop offset="0.234" stop-color="#b456ce"/><stop offset="0.2553" stop-color="#bb5bc7"/><stop offset="0.2766" stop-color="#c260c0"/><stop offset="0.2979" stop-color="#c864b9"/><stop offset="0.3191" stop-color="#ce69b1"/><stop offset="0.3404" stop-color="#d36eaa"/><stop offset="0.3617" stop-color="#d872a3"/><stop offset="0.383" stop-color="#dc779c"/><stop offset="0.4043" stop-color="#e07b96"/><stop offset="0.4255" stop-color="#e47f8f"/><stop offset="0.4468" stop-color="#e78389"/><stop offset="0.4681" stop-color="#ea8683"/><stop offset="0.4894" stop-color="#ed897e"/><stop offset="0.5106" stop-color="#ef8c78"/><stop offset="0.5319" stop-color="#f18f73"/><stop offset="0.5532" stop-color="#f3926e"/><stop offset="0.5745" stop-color="#f59469"/><stop offset="0.5957" stop-color="#f69665"/><stop offset="0.617" stop-color="#f89861"/><stop offset="0.6383" stop-color="#f9995d"/><stop offset="0.6596" stop-color="#fa9b59"/><stop offset="0.6809" stop-color="#fb9c55"/><stop offset="0.7021" stop-color="#fb9d52"/><stop offset="0.7234" stop-color="#fc9e4f"/><stop offset="0.7447" stop-color="#fc9f4c"/><stop offset="0.766" stop-color="#fda049"/><stop offset="0.7872" stop-color="#fda046"/><stop offset="0.8085" stop-color="#fea144"/><stop offset="0.8298" stop-color="#fea142"/><stop offset="0.8511" stop-color="#fea23f"/><stop offset="0.8723" stop-color="#fea23d"/><stop offset="0.8936" stop-color="#fea23b"/><stop offset="0.9149" stop-color="#ffa23a"/><stop offset="0.9362" stop-color="#ffa238"/><stop offset="0.9574" stop-color="#ffa337"/><stop offset="0.9787" stop-color="#ffa336"/><stop offset="1" stop-color="#ffa336"/></radialGradient>
<clipPath id="k9"><rect x="1574" y="956" width="412" height="329"/></clipPath>
<radialGradient id="g9_0" href="#g9" gradientTransform="matrix(539.862 0 0 100000 1575.03 63883.9)"/>
<radialGradient id="g9_1" href="#g9" gradientTransform="matrix(539.862 0 0 100000 1575.03 61795.6)"/>
<radialGradient id="g9_2" href="#g9" gradientTransform="matrix(539.862 0 0 100000 1575.03 59710.36)"/>
<radialGradient id="g9_3" href="#g9" gradientTransform="matrix(539.862 0 0 100000 1575.03 57622.07)"/>
<radialGradient id="g9_4" href="#g9" gradientTransform="matrix(539.862 0 0 100000 1575.03 55536.82)"/>
<radialGradient id="g9_5" href="#g9" gradientTransform="matrix(539.862 0 0 100000 1575.03 53448.53)"/>
<radialGradient id="g9_6" href="#g9" gradientTransform="matrix(539.862 0 0 100000 1575.03 51363.29)"/>
<radialGradient id="g9_7" href="#g9" gradientTransform="matrix(539.862 0 0 100000 1575.03 49275)"/>
<radialGradient id="g9_8" href="#g9" gradientTransform="matrix(539.862 0 0 100000 1575.03 47189.75)"/>
<radialGradient id="g9_9" href="#g9" gradientTransform="matrix(539.862 0 0 100000 1575.03 45101.46)"/>
<radialGradient id="g9_10" href="#g9" gradientTransform="matrix(539.862 0 0 100000 1575.03 43016.22)"/>
<radialGradient id="g9_11" href="#g9" gradientTransform="matrix(539.862 0 0 100000 1575.03 40927.93)"/>
<radialGradient id="g9_12" href="#g9" gradientTransform="matrix(539.862 0 0 100000 1575.03 38842.68)"/>
<radialGradient id="g9_13" href="#g9" gradientTransform="matrix(539.862 0 0 100000 1575.03 36754.39)"/>
<radialGradient id="g9_14" href="#g9" gradientTransform="matrix(539.862 0 0 100000 1575.03 34669.15)"/>
<radialGradient id="g9_15" href="#g9" gradientTransform="matrix(539.862 0 0 100000 1575.03 32580.85)"/>
<radialGradient id="g9_16" href="#g9" gradientTransform="matrix(539.862 0 0 100000 1575.03 30495.61)"/>
<radialGradient id="g9_17" href="#g9" gradientTransform="matrix(539.862 0 0 100000 1575.03 28407.32)"/>
<radialGradient id="g9_18" href="#g9" gradientTransform="matrix(539.862 0 0 100000 1575.03 26322.07)"/>
<radialGradient id="g9_19" href="#g9" gradientTransform="matrix(539.862 0 0 100000 1575.03 24233.78)"/>
<radialGradient id="g9_20" href="#g9" gradientTransform="matrix(539.862 0 0 100000 1575.03 22148.54)"/>
<radialGradient id="g9_21" href="#g9" gradientTransform="matrix(539.862 0 0 100000 1575.03 20060.25)"/>
<radialGradient id="g9_22" href="#g9" gradientTransform="matrix(539.862 0 0 100000 1575.03 17975)"/>
<radialGradient id="g9_23" href="#g9" gradientTransform="matrix(539.862 0 0 100000 1575.03 15886.71)"/>
<radialGradient id="g9_24" href="#g9" gradientTransform="matrix(539.862 0 0 100000 1575.03 13801.47)"/>
<radialGradient id="g9_25" href="#g9" gradientTransform="matrix(539.862 0 0 100000 1575.03 11713.18)"/>
<radialGradient id="g9_26" href="#g9" gradientTransform="matrix(539.862 0 0 100000 1575.03 9627.93)"/>
<radialGradient id="g9_27" href="#g9" gradientTransform="matrix(539.862 0 0 100000 1575.03 7539.64)"/>
<radialGradient id="g9_28" href="#g9" gradientTransform="matrix(539.862 0 0 100000 1575.03 5454.4)"/>
<radialGradient id="g9_29" href="#g9" gradientTransform="matrix(539.862 0 0 100000 1575.03 3366.11)"/>
<radialGradient id="g9_30" href="#g9" gradientTransform="matrix(539.862 0 0 100000 1575.03 1280.86)"/>
<linearGradient id="cb" x1="0" y1="0" x2="0" y2="1"><stop offset="0" stop-color="#0000ff"/><stop offset="0.0333" stop-color="#3c03f8"/><stop offset="0.0667" stop-color="#5408f1"/><stop offset="0.1" stop-color="#650eea"/><stop offset="0.1333" stop-color="#7314e3"/><stop offset="0.1667" stop-color="#7f19dc"/><stop offset="0.2" stop-color="#8a1ed5"/><stop offset="0.2333" stop-color="#9323ce"/><stop offset="0.2667" stop-color="#9b28c7"/><stop offset="0.3" stop-color="#a32dc0"/><stop offset="0.3333" stop-color="#aa32b9"/><stop offset="0.3667" stop-color="#b136b2"/><stop offset="0.4" stop-color="#b73bab"/><stop offset="0.4333" stop-color="#bd40a4"/><stop offset="0.4667" stop-color="#c2449d"/><stop offset="0.5" stop-color="#c84996"/><stop offset="0.5333" stop-color="#cc4d8f"/><stop offset="0.5667" stop-color="#d15288"/><stop offset="0.6" stop-color="#d65781"/><stop offset="0.6333" stop-color="#da5b7a"/><stop offset="0.6667" stop-color="#de6073"/><stop offset="0.7" stop-color="#e2646b"/><stop offset="0.7333" stop-color="#e56964"/><stop offset="0.7667" stop-color="#e96d5c"/><stop offset="0.8" stop-color="#ec7154"/><stop offset="0.8333" stop-color="#f0764b"/><stop offset="0.8667" stop-color="#f37a42"/><stop offset="0.9" stop-color="#f67f38"/><stop offset="0.9333" stop-color="#f9832c"/><stop offset="0.9667" stop-color="#fc881d"/><stop offset="1" stop-color="#ff8c00"/></linearGradient></defs>
<rect width="2004" height="1410" fill="#fff"/>
<g clip-path="url(#k0)"><rect x="163" y="75" width="418" height="336" fill="url(#g0_0)"/><rect x="163" y="87.17" width="418" height="326.83" fill="url(#g0_1)"/><rect x="163" y="99.39" width="418" height="314.61" fill="url(#g0_2)"/><rect x="163" y="108.56" width="418" height="305.44" fill="url(#g0_3)"/><rect x="163" y="120.78" width="418" height="293.22" fill="url(#g0_4)"/><rect x="163" y="129.94" width="418" height="284.06" fill="url(#g0_5)"/><rect x="163" y="142.17" width="418" height="271.83" fill="url(#g0_6)"/><rect x="163" y="151.33" width="418" height="262.67" fill="url(#g0_7)"/><rect x="163" y="163.56" width="418" height="250.44" fill="url(#g0_8)"/><rect x="163" y="172.72" width="418" height="241.28" fill="url(#g0_9)"/><rect x="163" y="184.94" width="418" height="229.06" fill="url(#g0_10)"/><rect x="163" y="194.11" width="418" height="219.89" fill="url(#g0_11)"/><rect x="163" y="206.33" width="418" height="207.67" fill="url(#g0_12)"/><rect x="163" y="215.5" width="418" height="198.5" fill="url(#g0_13)"/><rect x="163" y="227.72" width="418" height="186.28" fill="url(#g0_14)"/><rect x="163" y="236.89" width="418" height="177.11" fill="url(#g0_15)"/><rect x="163" y="249.11" width="418" height="164.89" fill="url(#g0_16)"/><rect x="163" y="258.28" width="418" height="155.72" fill="url(#g0_17)"/><rect x="163" y="270.5" width="418" height="143.5" fill="url(#g0_18)"/><rect x="163" y="279.67" width="418" height="134.33" fill="url(#g0_19)"/><rect x="163" y="291.89" width="418" height="122.11" fill="url(#g0_20)"/><rect x="163" y="301.06" width="418" height="112.94" fill="url(#g0_21)"/><rect x="163" y="313.28" width="418" height="100.72" fill="url(#g0_22)"/><rect x="163" y="322.44" width="418" height="91.56" fill="url(#g0_23)"/><rect x="163" y="334.67" width="418" height="79.33" fill="url(#g0_24)"/><rect x="163" y="343.83" width="418" height="70.17" fill="url(#g0_25)"/><rect x="163" y="356.06" width="418" height="57.94" fill="url(#g0_26)"/><rect x="163" y="365.22" width="418" height="48.78" fill="url(#g0_27)"/><rect x="163" y="377.44" width="418" height="36.56" fill="url(#g0_28)"/><rect x="163" y="386.61" width="418" height="27.39" fill="url(#g0_29)"/><rect x="163" y="398.83" width="418" height="15.17" fill="url(#g0_30)"/></g>
<g fill="none" stroke="#000" stroke-width="4.242" stroke-linejoin="round"><path stroke-linecap="round" d="M168.5 326.6L171.5 326.6L174.5 326.7L177.5 326.8L180.5 327L183.5 327.2L186.5 327.4L189.5 327.8L192.5 328.1L195.6 328.5L198.5 329L201.5 329.5L204.5 330L207.4 330.7L210.4 331.3L213.3 332L216.2 332.8L219.1 333.6L222 334.5L224.9 335.4L227.8 336.4L230.6 337.4L233.4 338.5L236.2 339.7L239 340.9L241.7 342.2L244.4 343.5L247.1 344.9L249.8 346.4L252.4 348L254.9 349.6L257.5 351.2L259.9 353L262.3 354.8L264.7 356.7L267 358.7L269.2 360.8L271.4 362.9L273.5 365.1L275.5 367.5L277.3 369.9L279.1 372.3L280.7 374.9L282.3 377.5L283.7 380.2L284.9 383L286 385.9L287 388.9L287.7 391.8L288.3 394.9L288.6 397.9L288.8 399.8M168.5 259.5L171.5 259.5L174.5 259.6L177.5 259.6L180.5 259.7L183.5 259.8L186.5 260L189.5 260.1L192.5 260.3L195.6 260.5L196.7 260.6M208.7 261.8L211.7 262.1L214.7 262.5L217.7 262.9L220.7 263.3L223.7 263.8L226.7 264.3L229.6 264.8L232.6 265.3L235.2 265.8M246.3 268.1L249.2 268.8L252.2 269.5L255.1 270.3L258 271L261 271.8L263.9 272.7L266.7 273.5L269.6 274.4L271.1 274.8M281.1 278.2L283.9 279.3L286.8 280.3L289.6 281.4L292.4 282.5L295.2 283.7L298 284.9L300.7 286.1L303.5 287.4L303.7 287.5M312.9 292L315.6 293.4L318.3 294.8L320.9 296.3L323.5 297.8L326.1 299.3L328.7 300.9L331.3 302.5L333.6 304M342.1 310L344.5 311.8L346.9 313.6L349.2 315.5L351.6 317.5L353.8 319.5L356.1 321.5L358.3 323.5L360.4 325.6L360.6 325.8M367.8 333.4L369.8 335.7L371.7 338.1L373.6 340.4L375.4 342.9L377.2 345.4L378.9 347.9L380.5 350.5L382.1 353.1L382.6 354M387.9 364.6L389.1 367.4L390.2 370.3L391.2 373.2L392.1 376L392.9 379L393.6 382L394.3 385.1L394.8 388.1L395.3 391.4M168.5 193.1L171.5 193.1L172.6 193.1M185 193.3L188 193.4L189.1 193.5M201.4 194.1L204.4 194.3L205.3 194.3M217.5 195.3L220.5 195.6L221.4 195.7M233.1 197L236.1 197.4L236.8 197.5M248.3 199.1L251.3 199.6L252.1 199.7M263.2 201.7L266.2 202.2L266.8 202.4M277.7 204.6L280.7 205.2L281.4 205.4M292 207.9L294.9 208.7L295.4 208.8M306.1 211.7L308.9 212.5L309.5 212.7M319.9 215.8L322.7 216.8L323.2 216.9M333.3 220.4L336.1 221.4L336.6 221.5M346.6 225.4L349.4 226.5L349.8 226.6M359.6 230.8L362.3 232L362.8 232.2M372.5 236.7L375.2 238L375.5 238.2M384.7 242.9L387.4 244.4L387.7 244.6M396.8 249.7L399.4 251.3L399.7 251.4M408.6 257L411.1 258.6L411.4 258.9M419.9 264.7L422.4 266.5L422.7 266.8M431 273.2L433.4 275.1L433.7 275.3M441.5 282L443.8 284.1L444.1 284.3M452 292L454.2 294.2L454.4 294.5M461.6 302.3L463.6 304.6L463.9 305.1M470.7 313.6L472.5 316.1L472.8 316.4M478.8 325.5L480.4 328L480.7 328.5M486.4 338.8L487.7 341.5L488 342.1M492.7 353L493.8 355.8L494.1 356.6M497.7 368.4L498.4 371.4L498.6 372.3M500.8 384.6L501.2 387.6L501.3 388.4"/><path d="M288.8 399.8L288.8 400.9"/></g>
<path fill="#000" fill-rule="evenodd" d="M148.2 0.12H596.2V68.78H148.2ZM152.55 4.62H591.85V64.18H152.55Z"/>
<text x="372.2" y="46.82" font-size="35.6" text-anchor="middle" fill="#000">participant 1</text>
<line x1="148.3" y1="68.18" x2="148.3" y2="417.8" stroke="#000" stroke-width="4.24"/>
<line x1="137.3" y1="402" x2="148.2" y2="402" stroke="#333" stroke-width="4.24"/>
<text transform="translate(128.5 418.45) scale(0.985 1.04)" font-size="43.7" text-anchor="end" fill="#4d4d4d">0</text>
<line x1="137.3" y1="296.07" x2="148.2" y2="296.07" stroke="#333" stroke-width="4.24"/>
<text transform="translate(128.5 312.52) scale(0.985 1.04)" font-size="43.7" text-anchor="end" fill="#4d4d4d">50</text>
<line x1="137.3" y1="190.15" x2="148.2" y2="190.15" stroke="#333" stroke-width="4.24"/>
<text transform="translate(128.5 206.6) scale(0.985 1.04)" font-size="43.7" text-anchor="end" fill="#4d4d4d">100</text>
<line x1="137.3" y1="84.22" x2="148.2" y2="84.22" stroke="#333" stroke-width="4.24"/>
<text transform="translate(128.5 100.67) scale(0.985 1.04)" font-size="43.7" text-anchor="end" fill="#4d4d4d">150</text>
<g clip-path="url(#k1)"><rect x="632" y="75" width="418" height="336" fill="url(#g1_0)"/><rect x="632" y="87.17" width="418" height="326.83" fill="url(#g1_1)"/><rect x="632" y="99.39" width="418" height="314.61" fill="url(#g1_2)"/><rect x="632" y="108.56" width="418" height="305.44" fill="url(#g1_3)"/><rect x="632" y="120.78" width="418" height="293.22" fill="url(#g1_4)"/><rect x="632" y="129.94" width="418" height="284.06" fill="url(#g1_5)"/><rect x="632" y="142.17" width="418" height="271.83" fill="url(#g1_6)"/><rect x="632" y="151.33" width="418" height="262.67" fill="url(#g1_7)"/><rect x="632" y="163.56" width="418" height="250.44" fill="url(#g1_8)"/><rect x="632" y="172.72" width="418" height="241.28" fill="url(#g1_9)"/><rect x="632" y="184.94" width="418" height="229.06" fill="url(#g1_10)"/><rect x="632" y="194.11" width="418" height="219.89" fill="url(#g1_11)"/><rect x="632" y="206.33" width="418" height="207.67" fill="url(#g1_12)"/><rect x="632" y="215.5" width="418" height="198.5" fill="url(#g1_13)"/><rect x="632" y="227.72" width="418" height="186.28" fill="url(#g1_14)"/><rect x="632" y="236.89" width="418" height="177.11" fill="url(#g1_15)"/><rect x="632" y="249.11" width="418" height="164.89" fill="url(#g1_16)"/><rect x="632" y="258.28" width="418" height="155.72" fill="url(#g1_17)"/><rect x="632" y="270.5" width="418" height="143.5" fill="url(#g1_18)"/><rect x="632" y="279.67" width="418" height="134.33" fill="url(#g1_19)"/><rect x="632" y="291.89" width="418" height="122.11" fill="url(#g1_20)"/><rect x="632" y="301.06" width="418" height="112.94" fill="url(#g1_21)"/><rect x="632" y="313.28" width="418" height="100.72" fill="url(#g1_22)"/><rect x="632" y="322.44" width="418" height="91.56" fill="url(#g1_23)"/><rect x="632" y="334.67" width="418" height="79.33" fill="url(#g1_24)"/><rect x="632" y="343.83" width="418" height="70.17" fill="url(#g1_25)"/><rect x="632" y="356.06" width="418" height="57.94" fill="url(#g1_26)"/><rect x="632" y="365.22" width="418" height="48.78" fill="url(#g1_27)"/><rect x="632" y="377.44" width="418" height="36.56" fill="url(#g1_28)"/><rect x="632" y="386.61" width="418" height="27.39" fill="url(#g1_29)"/><rect x="632" y="398.83" width="418" height="15.17" fill="url(#g1_30)"/></g>
<g fill="none" stroke="#000" stroke-width="4.242" stroke-linejoin="round"><path stroke-linecap="round" d="M637.8 277.9L640.8 278L643.8 278.2L646.8 278.5L649.8 279L652.8 279.5L655.7 280.2L658.6 281L661.5 282L664.3 283L667.1 284.2L669.9 285.4L672.5 286.8L675.2 288.3L677.8 289.8L680.3 291.5L682.8 293.2L685.2 295L687.6 296.9L689.8 298.8L692.1 300.9L694.2 303L696.3 305.2L698.4 307.4L700.4 309.7L702.3 312L704.2 314.4L706 316.9L707.7 319.4L709.3 321.9L710.9 324.5L712.5 327.1L713.9 329.7L715.4 332.4L716.7 335.1L718 337.9L719.2 340.6L720.4 343.5L721.5 346.3L722.6 349.2L723.5 352L724.5 354.9L725.4 357.9L726.2 360.9L727 363.9L727.6 366.9L728.3 369.9L728.9 372.9L729.4 376L729.9 379.2L730.3 382.3L730.7 385.6L730.9 388.7L731.2 392.1L731.4 395.4L731.4 397.8M637.8 149.1L640.8 149.2L643.8 149.3L646.8 149.4L649.8 149.7L652.8 149.9L655.9 150.3L658.9 150.7L661.8 151.2L664.8 151.7L665.3 151.8M676.2 154.3L679.1 155.1L681.9 156L684.8 156.9L687.7 157.9L690.5 159L693.3 160.1L696.1 161.2L698.9 162.5L699.7 162.8M709 167.4L711.6 168.8L714.3 170.3L716.9 171.8L719.4 173.4L722 175.1L724.5 176.7L727 178.4L729.3 180.1M737.5 186.3L739.8 188.3L742.1 190.2L744.4 192.2L746.7 194.2L748.9 196.3L751 198.4L753.2 200.5L755.3 202.7L755.6 203M762.8 210.8L764.8 213.2L766.8 215.5L768.7 217.8L770.5 220.2L772.4 222.6L774.2 225.1L776 227.5L777.8 230L778.2 230.5M784.5 240L786.1 242.6L787.6 245.2L789.2 247.8L790.7 250.5L792.2 253.1L793.6 255.8L795 258.5L796.4 261.2L797.5 263.4M802.5 274L803.8 276.8L804.9 279.6L806.1 282.5L807.3 285.3L808.4 288.2L809.4 291L810.5 293.9L811.5 296.8L812.5 299.7M816.1 311.4L817 314.4L817.8 317.4L818.6 320.3L819.3 323.4L820.1 326.4L820.8 329.4L821.4 332.4L822.1 335.5L822.7 338.5L822.8 339.1M825 351.5L825.4 354.5L825.9 357.7L826.3 360.9L826.6 363.9L827 367.3L827.3 370.5L827.6 373.7L827.8 376.7L828.1 380.2M828.7 393.7L828.7 395.6M790 84.3L792.3 86.2L792.5 86.4M800.3 93.3L802.5 95.4L802.7 95.7M809.9 102.6L812 104.8L812 104.8M819.3 112.5L821.3 114.8L821.6 115.1M828.5 123.1L830.5 125.4L830.7 125.7M837.5 134.3L839.3 136.7L839.6 137.1M845.9 145.8L847.7 148.3L848 148.8M854.1 158L855.7 160.5L856.1 161.1M862 170.7L863.5 173.4L863.9 174M869.4 184.1L870.9 186.7L871.2 187.4M876.5 197.9L877.9 200.7L878.2 201.3M883.1 212.1L884.3 214.9L884.6 215.5M889.2 226.6L890.4 229.5L890.6 230.1M894.8 241.4L895.8 244.3L896.1 245M899.9 256.6L900.9 259.6L901.1 260.4M904.5 272.1L905.3 275.1L905.5 275.8M908.6 288L909.3 290.9L909.5 291.8M912.2 303.9L912.8 307L913 307.8M915.2 320.3L915.7 323.3L915.8 324.1M917.7 336.6L918.1 339.7L918.2 340.3M919.6 353.4L919.9 356.4L920 356.8M921 369.9L921.2 373.2L921.2 373.9M921.8 387.1L921.9 390.1"/><path d="M731.4 397.8L731.5 400M828.7 392.9L828.7 393.7M828.7 395.6L828.8 398.3M920 356.8L920 357.2M921.8 386.5L921.8 387.1M921.9 390.1L921.9 390.7"/></g>
<path fill="#000" fill-rule="evenodd" d="M617.53 0.12H1065.53V68.78H617.53ZM621.88 4.62H1061.18V64.18H621.88Z"/>
<text x="841.53" y="46.82" font-size="35.6" text-anchor="middle" fill="#000">participant 2</text>
<g clip-path="url(#k2)"><rect x="1102" y="75" width="418" height="336" fill="url(#g2_0)"/><rect x="1102" y="87.17" width="418" height="326.83" fill="url(#g2_1)"/><rect x="1102" y="99.39" width="418" height="314.61" fill="url(#g2_2)"/><rect x="1102" y="108.56" width="418" height="305.44" fill="url(#g2_3)"/><rect x="1102" y="120.78" width="418" height="293.22" fill="url(#g2_4)"/><rect x="1102" y="129.94" width="418" height="284.06" fill="url(#g2_5)"/><rect x="1102" y="142.17" width="418" height="271.83" fill="url(#g2_6)"/><rect x="1102" y="151.33" width="418" height="262.67" fill="url(#g2_7)"/><rect x="1102" y="163.56" width="418" height="250.44" fill="url(#g2_8)"/><rect x="1102" y="172.72" width="418" height="241.28" fill="url(#g2_9)"/><rect x="1102" y="184.94" width="418" height="229.06" fill="url(#g2_10)"/><rect x="1102" y="194.11" width="418" height="219.89" fill="url(#g2_11)"/><rect x="1102" y="206.33" width="418" height="207.67" fill="url(#g2_12)"/><rect x="1102" y="215.5" width="418" height="198.5" fill="url(#g2_13)"/><rect x="1102" y="227.72" width="418" height="186.28" fill="url(#g2_14)"/><rect x="1102" y="236.89" width="418" height="177.11" fill="url(#g2_15)"/><rect x="1102" y="249.11" width="418" height="164.89" fill="url(#g2_16)"/><rect x="1102" y="258.28" width="418" height="155.72" fill="url(#g2_17)"/><rect x="1102" y="270.5" width="418" height="143.5" fill="url(#g2_18)"/><rect x="1102" y="279.67" width="418" height="134.33" fill="url(#g2_19)"/><rect x="1102" y="291.89" width="418" height="122.11" fill="url(#g2_20)"/><rect x="1102" y="301.06" width="418" height="112.94" fill="url(#g2_21)"/><rect x="1102" y="313.28" width="418" height="100.72" fill="url(#g2_22)"/><rect x="1102" y="322.44" width="418" height="91.56" fill="url(#g2_23)"/><rect x="1102" y="334.67" width="418" height="79.33" fill="url(#g2_24)"/><rect x="1102" y="343.83" width="418" height="70.17" fill="url(#g2_25)"/><rect x="1102" y="356.06" width="418" height="57.94" fill="url(#g2_26)"/><rect x="1102" y="365.22" width="418" height="48.78" fill="url(#g2_27)"/><rect x="1102" y="377.44" width="418" height="36.56" fill="url(#g2_28)"/><rect x="1102" y="386.61" width="418" height="27.39" fill="url(#g2_29)"/><rect x="1102" y="398.83" width="418" height="15.17" fill="url(#g2_30)"/></g>
<g fill="none" stroke="#000" stroke-width="4.242" stroke-linejoin="round"><path stroke-linecap="round" d="M1137.6 84.5L1138.3 87.5L1139 90.6L1139.7 93.6L1140.4 96.7L1141.1 99.7L1141.7 102.9L1142.3 105.8L1142.9 108.9L1143.5 111.9L1144.1 114.9L1144.6 118L1145.2 121L1145.7 124L1146.2 127.1L1146.8 130.3L1147.2 133.3L1147.7 136.4L1148.2 139.6L1148.7 142.8L1149.2 145.8L1149.6 148.9L1150 152.1L1150.5 155.4L1150.9 158.4L1151.3 161.5L1151.7 164.7L1152.1 167.9L1152.5 171.2L1152.9 174.2L1153.3 177.4L1153.6 180.5L1154 183.8L1154.4 187.1L1154.7 190.1L1155 193.2L1155.3 196.4L1155.7 199.6L1156 202.9L1156.3 206.3L1156.6 209.3L1156.9 212.4L1157.2 215.6L1157.5 218.8L1157.7 222.1L1158 225.5L1158.3 229L1158.6 232.1L1158.8 235.2L1159 238.4L1159.3 241.7L1159.5 245L1159.8 248.5L1160 252L1160.2 255.1L1160.4 258.2L1160.6 261.4L1160.8 264.7L1161 268L1161.2 271.5L1161.4 275.1L1161.6 278.8L1161.8 281.9L1162 285L1162.1 288.2L1162.3 291.6L1162.5 295L1162.6 298.6L1162.8 302.4L1163 306.2L1163.1 309.3L1163.2 312.4L1163.3 315.7L1163.4 319.1L1163.6 322.6L1163.7 326.3L1163.8 330.2L1163.9 334.4L1164 338.8L1164.1 342L1164.2 345.3L1164.3 348.9L1164.4 352.7L1164.5 356.8L1164.5 361.3L1164.6 366.5L1164.7 372.5L1164.7 376L1164.8 380.1L1164.8 385.2M1207.9 85.1L1208.2 88.3L1208.4 91.6L1208.7 95L1208.9 98.4L1209.1 101.8L1209.4 105.3L1209.6 108.9L1209.9 112.5L1210 113.7M1210.8 126.8L1211 130L1211.2 133.3L1211.4 136.6L1211.6 140L1211.8 143.4L1212 146.8L1212.2 150.4L1212.4 154L1212.5 155.4M1213.3 168.9L1213.4 172L1213.6 175.2L1213.7 178.4L1213.9 181.7L1214.1 185L1214.2 188.4L1214.4 191.8L1214.6 195.3L1214.6 197.1M1215.3 211L1215.4 214.9L1215.6 218.9L1215.7 222L1215.8 225.1L1215.9 228.2L1216.1 231.5L1216.2 234.7L1216.3 238.1L1216.3 239.2M1216.8 252.4L1216.9 256.1L1217 260L1217.2 264.1L1217.3 268.2L1217.4 272.5L1217.5 276.9L1217.6 279.9M1218 294.7L1218.1 298.3L1218.1 302L1218.2 305.8L1218.3 309.9L1218.4 314.1L1218.5 318.5L1218.5 323.1M1218.8 336.3L1218.8 342.3L1218.9 345.6L1218.9 349.1L1219 352.8L1219 356.8L1219 361.3M1219.2 379.3L1219.2 379.3M1265 85.5L1265.1 88.1M1265.8 102.1L1265.9 104.9M1266.5 118.8L1266.7 121.7M1267.2 135.6L1267.3 138.7M1267.9 152.6L1268 155.9M1268.5 169.6L1268.6 172M1269 185.5L1269.1 189.4M1269.5 202.8L1269.6 205.6M1270 220.2L1270.1 221.7M1270.4 236.2L1270.5 239.5M1270.8 253.9L1270.9 255.8M1271.2 269.8L1271.2 271.9M1271.5 287.9L1271.5 287.9M1271.7 303.7L1271.8 306.6M1272 322.6L1272 322.6M1272.1 338.3L1272.2 338.3M1272.3 353.3L1272.3 353.3"/><path d="M1164.8 385.2L1164.9 392.7M1207.9 84.5L1207.9 85.1M1210.8 126.3L1210.8 126.8M1213.2 168.2L1213.3 168.9M1214.6 197.1L1214.7 197.5M1215.2 210.1L1215.3 211M1217.6 279.9L1217.7 281.4M1218 294L1218 294.7M1219 361.3L1219.1 365.4M1219.2 378L1219.2 379.3M1219.2 379.3L1219.2 390.3M1265 84.7L1265 85.5M1265.1 88.1L1265.2 88.9M1265.8 101.5L1265.8 102.1M1265.9 104.9L1266 105.6M1266.5 118.2L1266.5 118.8M1266.7 121.7L1266.7 122.4M1267.2 135L1267.2 135.6M1267.3 138.7L1267.4 139.2M1267.8 151.8L1267.9 152.6M1268.5 168.6L1268.5 169.6M1268.6 172L1268.6 172.8M1269.5 202.1L1269.5 202.8M1269.6 205.6L1269.6 206.3M1270 218.9L1270 220.2M1270.1 221.7L1270.1 223.1M1270.4 235.7L1270.4 236.2M1270.5 239.5L1270.5 239.9M1270.8 252.4L1270.8 253.9M1270.9 255.8L1270.9 256.7M1271.2 269.3L1271.2 269.8M1271.2 271.9L1271.2 273.4M1271.5 286.1L1271.5 287.9M1271.5 287.9L1271.5 290.3M1271.7 302.9L1271.7 303.7M1271.8 306.6L1271.8 307M1272 319.6L1272 322.6M1272 322.6L1272 323.9M1272.1 336.4L1272.1 338.3M1272.1 338.3L1272.2 340.6M1272.3 353.3L1272.3 357.5M1272.4 370.1L1272.4 374.3M1272.4 386.9L1272.4 390.8"/></g>
<path fill="#000" fill-rule="evenodd" d="M1086.86 0.12H1534.86V68.78H1086.86ZM1091.21 4.62H1530.51V64.18H1091.21Z"/>
<text x="1310.86" y="46.82" font-size="35.6" text-anchor="middle" fill="#000">participant 4</text>
<g clip-path="url(#k3)"><rect x="163" y="514" width="418" height="336" fill="url(#g3_0)"/><rect x="163" y="526.17" width="418" height="326.83" fill="url(#g3_1)"/><rect x="163" y="538.39" width="418" height="314.61" fill="url(#g3_2)"/><rect x="163" y="547.56" width="418" height="305.44" fill="url(#g3_3)"/><rect x="163" y="559.78" width="418" height="293.22" fill="url(#g3_4)"/><rect x="163" y="568.94" width="418" height="284.06" fill="url(#g3_5)"/><rect x="163" y="581.17" width="418" height="271.83" fill="url(#g3_6)"/><rect x="163" y="590.33" width="418" height="262.67" fill="url(#g3_7)"/><rect x="163" y="602.56" width="418" height="250.44" fill="url(#g3_8)"/><rect x="163" y="611.72" width="418" height="241.28" fill="url(#g3_9)"/><rect x="163" y="623.94" width="418" height="229.06" fill="url(#g3_10)"/><rect x="163" y="633.11" width="418" height="219.89" fill="url(#g3_11)"/><rect x="163" y="645.33" width="418" height="207.67" fill="url(#g3_12)"/><rect x="163" y="654.5" width="418" height="198.5" fill="url(#g3_13)"/><rect x="163" y="666.72" width="418" height="186.28" fill="url(#g3_14)"/><rect x="163" y="675.89" width="418" height="177.11" fill="url(#g3_15)"/><rect x="163" y="688.11" width="418" height="164.89" fill="url(#g3_16)"/><rect x="163" y="697.28" width="418" height="155.72" fill="url(#g3_17)"/><rect x="163" y="709.5" width="418" height="143.5" fill="url(#g3_18)"/><rect x="163" y="718.67" width="418" height="134.33" fill="url(#g3_19)"/><rect x="163" y="730.89" width="418" height="122.11" fill="url(#g3_20)"/><rect x="163" y="740.06" width="418" height="112.94" fill="url(#g3_21)"/><rect x="163" y="752.28" width="418" height="100.72" fill="url(#g3_22)"/><rect x="163" y="761.44" width="418" height="91.56" fill="url(#g3_23)"/><rect x="163" y="773.67" width="418" height="79.33" fill="url(#g3_24)"/><rect x="163" y="782.83" width="418" height="70.17" fill="url(#g3_25)"/><rect x="163" y="795.06" width="418" height="57.94" fill="url(#g3_26)"/><rect x="163" y="804.22" width="418" height="48.78" fill="url(#g3_27)"/><rect x="163" y="816.44" width="418" height="36.56" fill="url(#g3_28)"/><rect x="163" y="825.61" width="418" height="27.39" fill="url(#g3_29)"/><rect x="163" y="837.83" width="418" height="15.17" fill="url(#g3_30)"/></g>
<g fill="none" stroke="#000" stroke-width="4.242" stroke-linejoin="round"><path stroke-linecap="round" d="M168.5 777.4L171.5 777.5L174.5 777.6L177.5 777.8L180.5 778.1L183.5 778.5L186.5 778.9L189.5 779.5L192.4 780.1L195.4 780.9L198.3 781.7L201.2 782.6L204 783.6L206.8 784.6L209.6 785.8L212.4 787.1L215.1 788.4L217.7 789.8L220.3 791.4L222.9 793L225.4 794.7L227.8 796.5L230.2 798.4L232.4 800.5L234.6 802.6L236.7 804.8L238.7 807.1L240.6 809.5L242.3 812L243.9 814.5L245.5 817.2L246.8 820L248 822.8L249 825.6L249.9 828.6L250.5 831.7L251 834.8L251.3 837.8L251.4 838.6M168.5 720.7L171.5 720.7L174.5 720.7L177.5 720.9L180.5 721L183.5 721.2L186.5 721.5L189.5 721.7L192.5 722.1L195.6 722.5L196.6 722.6M207.9 724.5L210.9 725.1L213.8 725.8L216.7 726.5L219.7 727.2L222.6 728L225.5 728.8L228.4 729.7L231.3 730.7L232.4 731.1M242.4 734.8L245.3 736L248 737.2L250.8 738.4L253.5 739.8L256.2 741.1L258.9 742.5L261.5 744L264.1 745.5L264.4 745.6M273.3 751.2L275.7 753L278.2 754.7L280.6 756.6L282.9 758.4L285.3 760.4L287.5 762.3L289.8 764.4L291.9 766.4M299.1 773.9L301 776.1L302.9 778.5L304.8 780.9L306.6 783.4L308.3 785.8L310 788.4L311.6 790.9L313.1 793.6L313.7 794.7M318.7 805.3L319.8 808.1L320.8 811L321.8 814L322.6 817L323.4 820L324 823L324.6 826.2L325 829.4L325.3 832.4L325.4 832.8M168.5 664.5L171.5 664.5L172.5 664.5M184.9 664.9L187.9 665.1L188.9 665.2M200.8 666.2L203.9 666.6L204.6 666.7M216 668.3L219 668.8L219.7 668.9M231 671.1L233.9 671.7L234.6 671.9M245.3 674.5L248.2 675.4L248.8 675.5M259.3 678.7L262.1 679.7L262.6 679.8M272.6 683.5L275.5 684.6L275.9 684.8M285.5 688.9L288.3 690.1L288.7 690.3M298.2 695L300.9 696.4L301.3 696.6M310.3 701.7L312.9 703.3L313.3 703.5M322 709.1L324.5 710.8L324.8 711.1M333.2 717.3L335.5 719.1L335.8 719.4M343.7 726L345.9 728L346.2 728.3M353.3 735.1L355.4 737.3L355.6 737.6M362.8 745.6L364.7 747.9L365 748.3M371.5 757L373.3 759.5L373.5 759.8M379.6 769.5L381.1 772.2L381.5 772.8M386.7 783.3L387.9 786L388.2 786.8M392.4 798L393.4 801L393.6 801.8M396.6 813.9L397.2 816.9L397.3 817.8M398.9 830.6L399.1 833.8"/><path d="M251.4 838.6L251.4 839.7M398.9 830.2L398.9 830.6M399.1 833.8L399.2 834.4"/></g>
<path fill="#000" fill-rule="evenodd" d="M148.2 439.07H596.2V507.73H148.2ZM152.55 443.57H591.85V503.13H152.55Z"/>
<text x="372.2" y="485.77" font-size="35.6" text-anchor="middle" fill="#000">participant 5</text>
<line x1="148.3" y1="507.13" x2="148.3" y2="856.75" stroke="#000" stroke-width="4.24"/>
<line x1="137.3" y1="840.8" x2="148.2" y2="840.8" stroke="#333" stroke-width="4.24"/>
<text transform="translate(128.5 857.25) scale(0.985 1.04)" font-size="43.7" text-anchor="end" fill="#4d4d4d">0</text>
<line x1="137.3" y1="734.88" x2="148.2" y2="734.88" stroke="#333" stroke-width="4.24"/>
<text transform="translate(128.5 751.33) scale(0.985 1.04)" font-size="43.7" text-anchor="end" fill="#4d4d4d">50</text>
<line x1="137.3" y1="628.95" x2="148.2" y2="628.95" stroke="#333" stroke-width="4.24"/>
<text transform="translate(128.5 645.4) scale(0.985 1.04)" font-size="43.7" text-anchor="end" fill="#4d4d4d">100</text>
<line x1="137.3" y1="523.02" x2="148.2" y2="523.02" stroke="#333" stroke-width="4.24"/>
<text transform="translate(128.5 539.47) scale(0.985 1.04)" font-size="43.7" text-anchor="end" fill="#4d4d4d">150</text>
<g clip-path="url(#k4)"><rect x="632" y="514" width="418" height="336" fill="url(#g4_0)"/><rect x="632" y="526.17" width="418" height="326.83" fill="url(#g4_1)"/><rect x="632" y="538.39" width="418" height="314.61" fill="url(#g4_2)"/><rect x="632" y="547.56" width="418" height="305.44" fill="url(#g4_3)"/><rect x="632" y="559.78" width="418" height="293.22" fill="url(#g4_4)"/><rect x="632" y="568.94" width="418" height="284.06" fill="url(#g4_5)"/><rect x="632" y="581.17" width="418" height="271.83" fill="url(#g4_6)"/><rect x="632" y="590.33" width="418" height="262.67" fill="url(#g4_7)"/><rect x="632" y="602.56" width="418" height="250.44" fill="url(#g4_8)"/><rect x="632" y="611.72" width="418" height="241.28" fill="url(#g4_9)"/><rect x="632" y="623.94" width="418" height="229.06" fill="url(#g4_10)"/><rect x="632" y="633.11" width="418" height="219.89" fill="url(#g4_11)"/><rect x="632" y="645.33" width="418" height="207.67" fill="url(#g4_12)"/><rect x="632" y="654.5" width="418" height="198.5" fill="url(#g4_13)"/><rect x="632" y="666.72" width="418" height="186.28" fill="url(#g4_14)"/><rect x="632" y="675.89" width="418" height="177.11" fill="url(#g4_15)"/><rect x="632" y="688.11" width="418" height="164.89" fill="url(#g4_16)"/><rect x="632" y="697.28" width="418" height="155.72" fill="url(#g4_17)"/><rect x="632" y="709.5" width="418" height="143.5" fill="url(#g4_18)"/><rect x="632" y="718.67" width="418" height="134.33" fill="url(#g4_19)"/><rect x="632" y="730.89" width="418" height="122.11" fill="url(#g4_20)"/><rect x="632" y="740.06" width="418" height="112.94" fill="url(#g4_21)"/><rect x="632" y="752.28" width="418" height="100.72" fill="url(#g4_22)"/><rect x="632" y="761.44" width="418" height="91.56" fill="url(#g4_23)"/><rect x="632" y="773.67" width="418" height="79.33" fill="url(#g4_24)"/><rect x="632" y="782.83" width="418" height="70.17" fill="url(#g4_25)"/><rect x="632" y="795.06" width="418" height="57.94" fill="url(#g4_26)"/><rect x="632" y="804.22" width="418" height="48.78" fill="url(#g4_27)"/><rect x="632" y="816.44" width="418" height="36.56" fill="url(#g4_28)"/><rect x="632" y="825.61" width="418" height="27.39" fill="url(#g4_29)"/><rect x="632" y="837.83" width="418" height="15.17" fill="url(#g4_30)"/></g>
<g fill="none" stroke="#000" stroke-width="4.242" stroke-linejoin="round"><path stroke-linecap="round" d="M637.8 620.6L640.8 620.7L643.8 621.1L646.8 621.7L649.7 622.5L652.6 623.4L655.3 624.6L658 625.9L660.7 627.4L663.3 629.1L665.7 630.8L668.1 632.7L670.5 634.7L672.7 636.8L674.9 638.9L676.9 641.1L678.9 643.4L680.9 645.7L682.8 648.1L684.6 650.6L686.3 653.1L688 655.6L689.7 658.1L691.3 660.7L692.8 663.4L694.3 666L695.8 668.7L697.2 671.4L698.5 674.1L699.8 676.8L701.1 679.5L702.3 682.4L703.6 685.2L704.7 688L705.9 690.9L707 693.7L708 696.6L709 699.4L710.1 702.3L711 705.2L712 708.1L712.9 711.1L713.8 714.1L714.7 717L715.5 720L716.3 723L717.1 726L717.9 729L718.6 732L719.3 734.9L720 738L720.6 741L721.3 744L721.9 747.1L722.5 750.2L723.1 753.2L723.7 756.4L724.2 759.5L724.7 762.5L725.2 765.6L725.6 768.6L726.1 771.7L726.5 774.7L726.9 777.8L727.2 780.8L727.6 783.9L728 787.3L728.3 790.5L728.6 793.9L728.9 797.1L729.2 800.5L729.4 803.8L729.7 807.4L729.9 810.7L730.1 814.4L730.3 817.8L730.4 821.8L730.5 825.5L730.6 828.6L730.7 832.7M765.9 523.2L767.1 525.9L768.3 528.8L769.5 531.6L770.7 534.4L771.8 537.2L772.9 540.1L774 542.9L775.1 545.7L776.2 548.6M780.4 559.9L781.4 562.8L782.3 565.7L783.3 568.6L784.3 571.5L785.2 574.4L786.2 577.3L787.1 580.3L788 583.2L788.9 586.2L789 586.4M792.4 598.2L793.2 601.1L794 604.1L794.8 607.2L795.6 610.1L796.4 613.1L797.2 616.2L797.9 619.1L798.6 622.1L799.4 625.1L799.5 625.6M802.2 637.7L802.9 640.7L803.6 643.8L804.2 646.9L804.8 649.8L805.4 652.9L806 655.9L806.6 659.1L807.2 662.1L807.8 665.1L807.9 665.8M810.1 678.3L810.6 681.5L811.1 684.5L811.6 687.6L812.1 690.7L812.6 693.9L813 696.9L813.5 700L813.9 703.2L814.4 706.5L814.4 706.8M816 719.4L816.4 722.5L816.8 725.6L817.1 728.9L817.5 732.2L817.8 735.3L818.2 738.5L818.5 741.7L818.8 745.1L819.1 748.2M820.2 761.2L820.4 764.4L820.7 767.8L820.9 771.3L821.1 774.3L821.3 777.6L821.5 781L821.7 784.6L821.9 787.7L822 790.1M822.6 803.5L822.7 807L822.8 811L823 815.6L823 819.2L823.1 823.6L823.2 829.5M877.7 523.2L878.4 526.2L878.6 527.1M881.4 539.1L882 542.1L882.2 543M884.8 555.3L885.4 558.3L885.6 559.1M888 571.5L888.6 574.4L888.8 575.3M891.1 587.7L891.6 590.7L891.7 591.6M893.9 604.1L894.4 607.1L894.5 607.8M896.4 620.3L896.9 623.5L897 624.3M898.8 636.8L899.3 640L899.4 640.6M901 653.2L901.4 656.5L901.5 657.1M903.1 670.1L903.4 673.3L903.5 673.7M904.9 686.5L905.2 689.7L905.2 690.1M906.5 703.3L906.8 706.4L906.8 706.9M907.9 719.9L908.2 723L908.2 723.6M909.2 737L909.4 740M910.2 753.2L910.4 756.8M911.1 770.5L911.2 773.2M911.8 787.7L911.9 790.1M912.3 804.5L912.3 806.3M912.6 823.1L912.6 823.1"/><path d="M730.7 832.7L730.7 836.1M822.6 802.8L822.6 803.5M823.2 829.5L823.2 832.2M905.2 690.1L905.3 690.5M909.1 736.4L909.2 737M909.4 740L909.4 740.6M910.4 756.8L910.4 757.3M911.1 769.9L911.1 770.5M911.2 773.2L911.2 774.1M911.7 786.7L911.8 787.7M911.9 790.1L911.9 790.9M912.2 803.5L912.3 804.5M912.3 806.3L912.3 807.6M912.6 820.3L912.6 823.1M912.6 823.1L912.6 824.5"/></g>
<path fill="#000" fill-rule="evenodd" d="M617.53 439.07H1065.53V507.73H617.53ZM621.88 443.57H1061.18V503.13H621.88Z"/>
<text x="841.53" y="485.77" font-size="35.6" text-anchor="middle" fill="#000">participant 6</text>
<g clip-path="url(#k5)"><rect x="1102" y="514" width="418" height="336" fill="url(#g5_0)"/><rect x="1102" y="526.17" width="418" height="326.83" fill="url(#g5_1)"/><rect x="1102" y="538.39" width="418" height="314.61" fill="url(#g5_2)"/><rect x="1102" y="547.56" width="418" height="305.44" fill="url(#g5_3)"/><rect x="1102" y="559.78" width="418" height="293.22" fill="url(#g5_4)"/><rect x="1102" y="568.94" width="418" height="284.06" fill="url(#g5_5)"/><rect x="1102" y="581.17" width="418" height="271.83" fill="url(#g5_6)"/><rect x="1102" y="590.33" width="418" height="262.67" fill="url(#g5_7)"/><rect x="1102" y="602.56" width="418" height="250.44" fill="url(#g5_8)"/><rect x="1102" y="611.72" width="418" height="241.28" fill="url(#g5_9)"/><rect x="1102" y="623.94" width="418" height="229.06" fill="url(#g5_10)"/><rect x="1102" y="633.11" width="418" height="219.89" fill="url(#g5_11)"/><rect x="1102" y="645.33" width="418" height="207.67" fill="url(#g5_12)"/><rect x="1102" y="654.5" width="418" height="198.5" fill="url(#g5_13)"/><rect x="1102" y="666.72" width="418" height="186.28" fill="url(#g5_14)"/><rect x="1102" y="675.89" width="418" height="177.11" fill="url(#g5_15)"/><rect x="1102" y="688.11" width="418" height="164.89" fill="url(#g5_16)"/><rect x="1102" y="697.28" width="418" height="155.72" fill="url(#g5_17)"/><rect x="1102" y="709.5" width="418" height="143.5" fill="url(#g5_18)"/><rect x="1102" y="718.67" width="418" height="134.33" fill="url(#g5_19)"/><rect x="1102" y="730.89" width="418" height="122.11" fill="url(#g5_20)"/><rect x="1102" y="740.06" width="418" height="112.94" fill="url(#g5_21)"/><rect x="1102" y="752.28" width="418" height="100.72" fill="url(#g5_22)"/><rect x="1102" y="761.44" width="418" height="91.56" fill="url(#g5_23)"/><rect x="1102" y="773.67" width="418" height="79.33" fill="url(#g5_24)"/><rect x="1102" y="782.83" width="418" height="70.17" fill="url(#g5_25)"/><rect x="1102" y="795.06" width="418" height="57.94" fill="url(#g5_26)"/><rect x="1102" y="804.22" width="418" height="48.78" fill="url(#g5_27)"/><rect x="1102" y="816.44" width="418" height="36.56" fill="url(#g5_28)"/><rect x="1102" y="825.61" width="418" height="27.39" fill="url(#g5_29)"/><rect x="1102" y="837.83" width="418" height="15.17" fill="url(#g5_30)"/></g>
<g fill="none" stroke="#000" stroke-width="4.242" stroke-linejoin="round"><path stroke-linecap="round" d="M1107.1 636.5L1110.1 636.7L1113.1 637.4L1115.9 638.4L1118.6 639.8L1121.1 641.5L1123.5 643.3L1125.7 645.4L1127.8 647.6L1129.8 649.9L1131.7 652.3L1133.4 654.7L1135.1 657.2L1136.7 659.8L1138.2 662.4L1139.7 665.1L1141.1 667.8L1142.4 670.6L1143.7 673.4L1144.9 676.2L1146.1 679L1147.2 681.9L1148.3 684.8L1149.4 687.8L1150.4 690.7L1151.4 693.7L1152.3 696.6L1153.2 699.5L1154 702.5L1154.9 705.3L1155.7 708.3L1156.4 711.3L1157.2 714.2L1157.9 717.3L1158.6 720.2L1159.3 723.3L1159.9 726.3L1160.5 729.3L1161.2 732.4L1161.7 735.3L1162.3 738.4L1162.8 741.4L1163.4 744.5L1163.8 747.5L1164.3 750.6L1164.8 753.6L1165.2 756.7L1165.7 759.9L1166.1 763L1166.5 766.3L1166.9 769.3L1167.2 772.5L1167.6 775.6L1167.9 778.7L1168.2 782.1L1168.5 785.2L1168.8 788.6L1169 791.6L1169.3 794.9L1169.5 798.4L1169.7 801.6L1169.9 805.1L1170.1 808.2L1170.2 811.6L1170.4 815.5L1170.5 818.9L1170.6 822.8L1170.7 826.1L1170.8 830.3L1170.8 833.3M1236.3 523.3L1237 526.4L1237.7 529.4L1238.4 532.4L1239.1 535.4L1239.8 538.5L1240.4 541.4L1241.1 544.4L1241.7 547.5L1242.4 550.6L1242.5 551.2M1245 563.4L1245.6 566.6L1246.2 569.6L1246.8 572.6L1247.3 575.6L1247.9 578.8L1248.5 581.9L1249 584.9L1249.5 588L1250 591L1250.1 591.5M1252.2 604.1L1252.7 607.2L1253.2 610.4L1253.7 613.6L1254.1 616.6L1254.6 619.6L1255 622.7L1255.5 625.9L1255.9 629.1L1256.4 632.3L1256.4 632.6M1258.1 645.4L1258.5 648.6L1258.8 651.6L1259.2 654.6L1259.6 657.7L1259.9 660.9L1260.3 664.1L1260.7 667.4L1261 670.4L1261.3 673.5L1261.4 673.8M1262.7 686.7L1263 690.2L1263.3 693.2L1263.6 696.3L1263.8 699.5L1264.1 702.8L1264.4 706.2L1264.7 709.7L1264.9 712.7L1265.1 715.3M1266.1 728.7L1266.3 731.7L1266.5 734.8L1266.7 738L1266.9 741.3L1267.1 744.7L1267.3 748.2L1267.6 751.9L1267.7 755L1267.8 757.4M1268.4 770.5L1268.6 774.5L1268.7 777.6L1268.9 780.9L1269 784.3L1269.1 788.1L1269.2 792.1L1269.3 796.4L1269.4 799.6M1269.7 813.5L1269.8 819L1269.8 822.4L1269.9 826.5M1336.4 523.4L1336.8 526.4L1336.9 527.1M1338.6 539.9L1339 543.1L1339 543.5M1340.6 556.5L1341 559.6L1341.1 560.3M1342.5 573.2L1342.9 576.5L1342.9 576.9M1344.3 589.5L1344.6 592.7L1344.7 593.5M1345.9 606.3L1346.2 609.3L1346.3 610.2M1347.5 623.1L1347.8 626.4M1348.9 639.5L1349.1 642.5L1349.2 643.5M1350.2 656.2L1350.4 659.6L1350.5 660.1M1351.4 673L1351.6 676.1L1351.6 676.7M1352.4 689.7L1352.6 693.1M1353.4 706.9L1353.5 710M1354.2 723.3L1354.4 726.9M1354.9 740.4L1355.1 743.6M1355.5 757.3L1355.6 759.8M1356 773.9L1356.1 777.1M1356.4 791.8L1356.5 794M1356.7 810.2L1356.7 810.2"/><path d="M1170.8 833.3L1170.9 838.9M1265.1 715.3L1265.2 715.8M1269.7 812.2L1269.7 813.5M1269.9 826.5L1269.9 832.6M1347.4 622.7L1347.5 623.1M1347.8 626.4L1347.8 626.8M1352.6 693.1L1352.6 693.7M1353.3 706.3L1353.4 706.9M1353.5 710L1353.6 710.5M1354.9 739.8L1354.9 740.4M1355.1 743.6L1355.1 744M1355.5 756.6L1355.5 757.3M1355.6 759.8L1355.7 760.8M1356 773.4L1356 773.9M1356.1 777.1L1356.1 777.5M1356.4 790.2L1356.4 791.8M1356.7 806.9L1356.7 810.2M1356.7 810.2L1356.7 811.1M1356.8 823.8L1356.9 828"/></g>
<path fill="#000" fill-rule="evenodd" d="M1086.86 439.07H1534.86V507.73H1086.86ZM1091.21 443.57H1530.51V503.13H1091.21Z"/>
<text x="1310.86" y="485.77" font-size="35.6" text-anchor="middle" fill="#000">participant 7</text>
<g clip-path="url(#k6)"><rect x="163" y="953" width="418" height="335" fill="url(#g6_0)"/><rect x="163" y="965.14" width="418" height="325.86" fill="url(#g6_1)"/><rect x="163" y="977.32" width="418" height="313.68" fill="url(#g6_2)"/><rect x="163" y="986.46" width="418" height="304.54" fill="url(#g6_3)"/><rect x="163" y="998.65" width="418" height="292.35" fill="url(#g6_4)"/><rect x="163" y="1007.79" width="418" height="283.21" fill="url(#g6_5)"/><rect x="163" y="1019.97" width="418" height="271.03" fill="url(#g6_6)"/><rect x="163" y="1029.11" width="418" height="261.89" fill="url(#g6_7)"/><rect x="163" y="1041.3" width="418" height="249.7" fill="url(#g6_8)"/><rect x="163" y="1050.44" width="418" height="240.56" fill="url(#g6_9)"/><rect x="163" y="1062.62" width="418" height="228.38" fill="url(#g6_10)"/><rect x="163" y="1071.76" width="418" height="219.24" fill="url(#g6_11)"/><rect x="163" y="1083.94" width="418" height="207.06" fill="url(#g6_12)"/><rect x="163" y="1093.08" width="418" height="197.92" fill="url(#g6_13)"/><rect x="163" y="1105.27" width="418" height="185.73" fill="url(#g6_14)"/><rect x="163" y="1114.41" width="418" height="176.59" fill="url(#g6_15)"/><rect x="163" y="1126.59" width="418" height="164.41" fill="url(#g6_16)"/><rect x="163" y="1135.73" width="418" height="155.27" fill="url(#g6_17)"/><rect x="163" y="1147.92" width="418" height="143.08" fill="url(#g6_18)"/><rect x="163" y="1157.06" width="418" height="133.94" fill="url(#g6_19)"/><rect x="163" y="1169.24" width="418" height="121.76" fill="url(#g6_20)"/><rect x="163" y="1178.38" width="418" height="112.62" fill="url(#g6_21)"/><rect x="163" y="1190.56" width="418" height="100.44" fill="url(#g6_22)"/><rect x="163" y="1199.7" width="418" height="91.3" fill="url(#g6_23)"/><rect x="163" y="1211.89" width="418" height="79.11" fill="url(#g6_24)"/><rect x="163" y="1221.03" width="418" height="69.97" fill="url(#g6_25)"/><rect x="163" y="1233.21" width="418" height="57.79" fill="url(#g6_26)"/><rect x="163" y="1242.35" width="418" height="48.65" fill="url(#g6_27)"/><rect x="163" y="1254.54" width="418" height="36.46" fill="url(#g6_28)"/><rect x="163" y="1263.68" width="418" height="27.32" fill="url(#g6_29)"/><rect x="163" y="1275.86" width="418" height="15.14" fill="url(#g6_30)"/></g>
<g fill="none" stroke="#000" stroke-width="4.242" stroke-linejoin="round"><path stroke-linecap="round" d="M168.5 1029.4L171.5 1029.6L174.4 1030.4L177.2 1031.5L179.8 1033L182.2 1034.8L184.5 1036.7L186.7 1038.9L188.7 1041.1L190.6 1043.5L192.4 1046L194.1 1048.5L195.7 1051.1L197.2 1053.7L198.7 1056.4L200 1059.1L201.4 1061.8L202.6 1064.6L203.9 1067.4L205 1070.2L206.2 1073L207.3 1075.9L208.3 1078.8L209.4 1081.7L210.3 1084.5L211.3 1087.4L212.2 1090.4L213.1 1093.3L214 1096.3L214.8 1099.3L215.6 1102.3L216.4 1105.2L217.2 1108.2L217.9 1111.2L218.6 1114.2L219.3 1117.2L220 1120.3L220.7 1123.3L221.3 1126.4L221.9 1129.4L222.5 1132.5L223.1 1135.4L223.7 1138.5L224.3 1141.7L224.8 1144.7L225.3 1147.9L225.8 1150.9L226.3 1154L226.8 1157.2L227.2 1160.2L227.7 1163.3L228.1 1166.6L228.5 1169.6L228.9 1172.8L229.3 1176.1L229.7 1179.2L230.1 1182.4L230.4 1185.7L230.8 1188.7L231.1 1191.9L231.4 1195.3L231.7 1198.3L232 1201.5L232.3 1204.8L232.6 1208.3L232.8 1211.4L233 1214.8L233.3 1218.3L233.5 1221.4L233.7 1224.6L233.9 1228.1L234.1 1231.9L234.3 1235.2L234.4 1238.7L234.6 1242.6L234.7 1245.8L234.8 1249.3L235 1253.3L235 1256.4L235.1 1259.9L235.2 1264.3L235.3 1270.6M266.4 962L267.1 965L267.8 968.1L268.5 971.2L269.1 974.2L269.8 977.2L270.4 980.3L271.1 983.4L271.7 986.4L272.3 989.4L272.4 989.8M274.8 1002.3L275.3 1005.3L275.9 1008.5L276.4 1011.4L277 1014.4L277.5 1017.5L278 1020.6L278.5 1023.7L279 1026.7L279.5 1029.7L279.6 1030.5M281.6 1043.1L282 1046.1L282.5 1049.2L282.9 1052.3L283.4 1055.5L283.8 1058.8L284.2 1061.8L284.6 1064.8L285.1 1067.9L285.5 1071.1L285.5 1071.7M287.1 1084.4L287.5 1087.5L287.8 1090.7L288.2 1094L288.6 1097.3L288.9 1100.4L289.2 1103.5L289.5 1106.6L289.9 1109.8L290.2 1113.1M291.4 1126.2L291.7 1129.4L292 1132.7L292.3 1136.1L292.5 1139.6L292.8 1142.7L293 1145.8L293.3 1149.1L293.5 1152.4L293.7 1154.6M294.6 1167.9L294.8 1171.2L295 1174.6L295.2 1178.1L295.4 1181.7L295.6 1184.7L295.7 1187.8L295.9 1191L296 1194.4L296.1 1196.1M296.7 1210.4L296.9 1213.7L297 1217.1L297.1 1220.7L297.2 1224.6L297.3 1228.8L297.5 1233.3L297.6 1236.6L297.6 1238.3M297.9 1253.7L297.9 1256.8L298 1260.3L298 1264.6M339.6 962.2L340 965.3L340.1 965.9M341.8 978.7L342.2 982L342.2 982.3M343.7 995.3L344.1 998.5L344.2 998.8M345.6 1011.6L345.9 1014.6L346 1015.4M347.3 1028.4L347.7 1031.7L347.7 1032.1M348.9 1044.8L349.2 1047.9L349.3 1048.8M350.4 1061.7L350.7 1065L350.7 1065.5M351.8 1078.6L352 1081.7L352.1 1082.2M353.1 1095.4L353.3 1098.9M354.2 1111.6L354.4 1114.8L354.4 1115.4M355.2 1128.9L355.4 1132.5M356.1 1145.4L356.3 1148.6M356.9 1162.4L357.1 1165.2M357.6 1179.2L357.7 1182.5M358.2 1195.6L358.3 1199.5M358.7 1212.8L358.8 1216.1M359 1229.5L359.1 1231.7M359.3 1248.2L359.3 1248.2"/><path d="M235.3 1270.6L235.3 1277.9M291.4 1125.8L291.4 1126.2M293.7 1154.6L293.7 1155.1M296.1 1196.1L296.2 1196.9M296.7 1209.5L296.7 1210.4M297.6 1238.3L297.6 1238.9M297.8 1251.4L297.9 1253.7M298 1264.6L298 1270.9M351.8 1078.2L351.8 1078.6M353 1094.9L353.1 1095.4M354.4 1115.4L354.4 1115.8M355.2 1128.4L355.2 1128.9M356.3 1148.6L356.3 1149.3M356.9 1161.8L356.9 1162.4M357.1 1165.2L357.1 1166M357.6 1178.6L357.6 1179.2M358.7 1212.2L358.7 1212.8M359 1229L359 1229.5M359.1 1231.7L359.1 1233.2M359.3 1245.8L359.3 1248.2M359.3 1248.2L359.4 1250M359.5 1262.6L359.5 1266.8"/></g>
<path fill="#000" fill-rule="evenodd" d="M148.2 878.02H596.2V946.68H148.2ZM152.55 882.52H591.85V942.08H152.55Z"/>
<text x="372.2" y="924.72" font-size="35.6" text-anchor="middle" fill="#000">participant 8</text>
<line x1="148.3" y1="946.08" x2="148.3" y2="1295.7" stroke="#000" stroke-width="4.24"/>
<line x1="137.3" y1="1279.5" x2="148.2" y2="1279.5" stroke="#333" stroke-width="4.24"/>
<text transform="translate(128.5 1295.95) scale(0.985 1.04)" font-size="43.7" text-anchor="end" fill="#4d4d4d">0</text>
<line x1="137.3" y1="1173.58" x2="148.2" y2="1173.58" stroke="#333" stroke-width="4.24"/>
<text transform="translate(128.5 1190.03) scale(0.985 1.04)" font-size="43.7" text-anchor="end" fill="#4d4d4d">50</text>
<line x1="137.3" y1="1067.65" x2="148.2" y2="1067.65" stroke="#333" stroke-width="4.24"/>
<text transform="translate(128.5 1084.1) scale(0.985 1.04)" font-size="43.7" text-anchor="end" fill="#4d4d4d">100</text>
<line x1="137.3" y1="961.72" x2="148.2" y2="961.72" stroke="#333" stroke-width="4.24"/>
<text transform="translate(128.5 978.17) scale(0.985 1.04)" font-size="43.7" text-anchor="end" fill="#4d4d4d">150</text>
<line x1="148.2" y1="1295.65" x2="596.2" y2="1295.65" stroke="#000" stroke-width="4.24"/>
<line x1="168.41" y1="1295.65" x2="168.41" y2="1306.45" stroke="#333" stroke-width="4.24"/>
<text transform="translate(168.41 1347) scale(0.985 1.04)" font-size="43.7" text-anchor="middle" fill="#4d4d4d">0</text>
<line x1="290.51" y1="1295.65" x2="290.51" y2="1306.45" stroke="#333" stroke-width="4.24"/>
<text transform="translate(290.51 1347) scale(0.985 1.04)" font-size="43.7" text-anchor="middle" fill="#4d4d4d">3</text>
<line x1="412.61" y1="1295.65" x2="412.61" y2="1306.45" stroke="#333" stroke-width="4.24"/>
<text transform="translate(412.61 1347) scale(0.985 1.04)" font-size="43.7" text-anchor="middle" fill="#4d4d4d">6</text>
<line x1="534.71" y1="1295.65" x2="534.71" y2="1306.45" stroke="#333" stroke-width="4.24"/>
<text transform="translate(534.71 1347) scale(0.985 1.04)" font-size="43.7" text-anchor="middle" fill="#4d4d4d">9</text>
<g clip-path="url(#k7)"><rect x="632" y="953" width="418" height="335" fill="url(#g7_0)"/><rect x="632" y="965.14" width="418" height="325.86" fill="url(#g7_1)"/><rect x="632" y="977.32" width="418" height="313.68" fill="url(#g7_2)"/><rect x="632" y="986.46" width="418" height="304.54" fill="url(#g7_3)"/><rect x="632" y="998.65" width="418" height="292.35" fill="url(#g7_4)"/><rect x="632" y="1007.79" width="418" height="283.21" fill="url(#g7_5)"/><rect x="632" y="1019.97" width="418" height="271.03" fill="url(#g7_6)"/><rect x="632" y="1029.11" width="418" height="261.89" fill="url(#g7_7)"/><rect x="632" y="1041.3" width="418" height="249.7" fill="url(#g7_8)"/><rect x="632" y="1050.44" width="418" height="240.56" fill="url(#g7_9)"/><rect x="632" y="1062.62" width="418" height="228.38" fill="url(#g7_10)"/><rect x="632" y="1071.76" width="418" height="219.24" fill="url(#g7_11)"/><rect x="632" y="1083.94" width="418" height="207.06" fill="url(#g7_12)"/><rect x="632" y="1093.08" width="418" height="197.92" fill="url(#g7_13)"/><rect x="632" y="1105.27" width="418" height="185.73" fill="url(#g7_14)"/><rect x="632" y="1114.41" width="418" height="176.59" fill="url(#g7_15)"/><rect x="632" y="1126.59" width="418" height="164.41" fill="url(#g7_16)"/><rect x="632" y="1135.73" width="418" height="155.27" fill="url(#g7_17)"/><rect x="632" y="1147.92" width="418" height="143.08" fill="url(#g7_18)"/><rect x="632" y="1157.06" width="418" height="133.94" fill="url(#g7_19)"/><rect x="632" y="1169.24" width="418" height="121.76" fill="url(#g7_20)"/><rect x="632" y="1178.38" width="418" height="112.62" fill="url(#g7_21)"/><rect x="632" y="1190.56" width="418" height="100.44" fill="url(#g7_22)"/><rect x="632" y="1199.7" width="418" height="91.3" fill="url(#g7_23)"/><rect x="632" y="1211.89" width="418" height="79.11" fill="url(#g7_24)"/><rect x="632" y="1221.03" width="418" height="69.97" fill="url(#g7_25)"/><rect x="632" y="1233.21" width="418" height="57.79" fill="url(#g7_26)"/><rect x="632" y="1242.35" width="418" height="48.65" fill="url(#g7_27)"/><rect x="632" y="1254.54" width="418" height="36.46" fill="url(#g7_28)"/><rect x="632" y="1263.68" width="418" height="27.32" fill="url(#g7_29)"/><rect x="632" y="1275.86" width="418" height="15.14" fill="url(#g7_30)"/></g>
<g fill="none" stroke="#000" stroke-width="4.242" stroke-linejoin="round"><path stroke-linecap="round" d="M637.8 1238.6L640.8 1238.6L643.8 1238.7L646.8 1238.8L649.8 1239L652.8 1239.3L655.9 1239.6L658.9 1239.9L661.9 1240.4L664.8 1240.8L667.8 1241.4L670.8 1242L673.7 1242.6L676.6 1243.4L679.6 1244.2L682.5 1245L685.4 1246L688.2 1247L691 1248.1L693.8 1249.3L696.5 1250.6L699.2 1252L701.8 1253.5L704.4 1255.1L706.9 1256.8L709.2 1258.7L711.5 1260.7L713.6 1262.9L715.6 1265.2L717.3 1267.7L718.7 1270.4L719.8 1273.2L720.5 1276.2L720.7 1277.9M637.8 1197.4L640.8 1197.4L643.8 1197.5L646.8 1197.5L649.8 1197.6L652.8 1197.7L655.9 1197.9L658.9 1198.1L661.9 1198.3L664.9 1198.5L666.1 1198.6M678.2 1199.9L681.2 1200.2L684.2 1200.7L687.2 1201.1L690.2 1201.6L693.1 1202.1L696.1 1202.6L699.1 1203.2L702 1203.8L704.4 1204.3M715.4 1206.9L718.3 1207.6L721.3 1208.5L724.1 1209.3L727 1210.2L729.9 1211.1L732.8 1212.1L735.6 1213.1L738.5 1214.1L739.4 1214.5M749.2 1218.5L751.9 1219.7L754.7 1221L757.4 1222.4L760.1 1223.8L762.7 1225.2L765.3 1226.7L767.9 1228.3L770.1 1229.6M778.5 1235.6L780.9 1237.5L783.2 1239.4L785.4 1241.5L787.6 1243.6L789.7 1245.8L791.7 1248L793.6 1250.4L795.4 1252.9L795.6 1253.2M801.1 1263.2L802.1 1266L803 1269L803.7 1272.1L804.2 1275.2L804.3 1277.3M637.8 1157.7L640.8 1157.7L641.9 1157.7M654.4 1158L657.4 1158.1L658.4 1158.1M670.6 1158.8L673.6 1159L674.5 1159.1M686.4 1160.1L689.4 1160.4L690.3 1160.5M702.1 1161.9L705.1 1162.3L705.8 1162.4M717.1 1164.1L720.1 1164.7L720.7 1164.8M731.7 1166.8L734.6 1167.4L735.3 1167.6M746.1 1170L749.1 1170.7L749.8 1170.9M760.6 1173.8L763.5 1174.6L764 1174.8M774.4 1178L777.2 1178.9L777.5 1179M787.6 1182.6L790.4 1183.7L790.9 1183.9M800.8 1187.9L803.6 1189.2L804 1189.4M813.8 1194L816.5 1195.3L816.8 1195.5M826.1 1200.6L828.7 1202.1L829 1202.3M837.7 1207.9L840.2 1209.6L840.6 1209.9M848.8 1216.1L851.1 1218L851.4 1218.2M859.3 1225.4L861.4 1227.6L861.8 1228M868.7 1236.1L870.5 1238.5L870.8 1238.9M876.9 1248.5L878.2 1251.3L878.6 1251.9M882.8 1263.2L883.5 1266.2L883.6 1266.9"/><path d="M720.7 1277.9L720.8 1278.6M804.3 1277.3L804.4 1278.2"/></g>
<path fill="#000" fill-rule="evenodd" d="M617.53 878.02H1065.53V946.68H617.53ZM621.88 882.52H1061.18V942.08H621.88Z"/>
<text x="841.53" y="924.72" font-size="35.6" text-anchor="middle" fill="#000">participant 9</text>
<line x1="617.53" y1="1295.65" x2="1065.53" y2="1295.65" stroke="#000" stroke-width="4.24"/>
<line x1="637.74" y1="1295.65" x2="637.74" y2="1306.45" stroke="#333" stroke-width="4.24"/>
<text transform="translate(637.74 1347) scale(0.985 1.04)" font-size="43.7" text-anchor="middle" fill="#4d4d4d">0</text>
<line x1="759.84" y1="1295.65" x2="759.84" y2="1306.45" stroke="#333" stroke-width="4.24"/>
<text transform="translate(759.84 1347) scale(0.985 1.04)" font-size="43.7" text-anchor="middle" fill="#4d4d4d">3</text>
<line x1="881.94" y1="1295.65" x2="881.94" y2="1306.45" stroke="#333" stroke-width="4.24"/>
<text transform="translate(881.94 1347) scale(0.985 1.04)" font-size="43.7" text-anchor="middle" fill="#4d4d4d">6</text>
<line x1="1004.04" y1="1295.65" x2="1004.04" y2="1306.45" stroke="#333" stroke-width="4.24"/>
<text transform="translate(1004.04 1347) scale(0.985 1.04)" font-size="43.7" text-anchor="middle" fill="#4d4d4d">9</text>
<g clip-path="url(#k8)"><rect x="1102" y="953" width="418" height="335" fill="url(#g8_0)"/><rect x="1102" y="965.14" width="418" height="325.86" fill="url(#g8_1)"/><rect x="1102" y="977.32" width="418" height="313.68" fill="url(#g8_2)"/><rect x="1102" y="986.46" width="418" height="304.54" fill="url(#g8_3)"/><rect x="1102" y="998.65" width="418" height="292.35" fill="url(#g8_4)"/><rect x="1102" y="1007.79" width="418" height="283.21" fill="url(#g8_5)"/><rect x="1102" y="1019.97" width="418" height="271.03" fill="url(#g8_6)"/><rect x="1102" y="1029.11" width="418" height="261.89" fill="url(#g8_7)"/><rect x="1102" y="1041.3" width="418" height="249.7" fill="url(#g8_8)"/><rect x="1102" y="1050.44" width="418" height="240.56" fill="url(#g8_9)"/><rect x="1102" y="1062.62" width="418" height="228.38" fill="url(#g8_10)"/><rect x="1102" y="1071.76" width="418" height="219.24" fill="url(#g8_11)"/><rect x="1102" y="1083.94" width="418" height="207.06" fill="url(#g8_12)"/><rect x="1102" y="1093.08" width="418" height="197.92" fill="url(#g8_13)"/><rect x="1102" y="1105.27" width="418" height="185.73" fill="url(#g8_14)"/><rect x="1102" y="1114.41" width="418" height="176.59" fill="url(#g8_15)"/><rect x="1102" y="1126.59" width="418" height="164.41" fill="url(#g8_16)"/><rect x="1102" y="1135.73" width="418" height="155.27" fill="url(#g8_17)"/><rect x="1102" y="1147.92" width="418" height="143.08" fill="url(#g8_18)"/><rect x="1102" y="1157.06" width="418" height="133.94" fill="url(#g8_19)"/><rect x="1102" y="1169.24" width="418" height="121.76" fill="url(#g8_20)"/><rect x="1102" y="1178.38" width="418" height="112.62" fill="url(#g8_21)"/><rect x="1102" y="1190.56" width="418" height="100.44" fill="url(#g8_22)"/><rect x="1102" y="1199.7" width="418" height="91.3" fill="url(#g8_23)"/><rect x="1102" y="1211.89" width="418" height="79.11" fill="url(#g8_24)"/><rect x="1102" y="1221.03" width="418" height="69.97" fill="url(#g8_25)"/><rect x="1102" y="1233.21" width="418" height="57.79" fill="url(#g8_26)"/><rect x="1102" y="1242.35" width="418" height="48.65" fill="url(#g8_27)"/><rect x="1102" y="1254.54" width="418" height="36.46" fill="url(#g8_28)"/><rect x="1102" y="1263.68" width="418" height="27.32" fill="url(#g8_29)"/><rect x="1102" y="1275.86" width="418" height="15.14" fill="url(#g8_30)"/></g>
<g fill="none" stroke="#000" stroke-width="4.242" stroke-linejoin="round"><path stroke-linecap="round" d="M1107.1 1262.8L1110.1 1262.9L1113.1 1263L1116.1 1263.2L1119.2 1263.4L1122.2 1263.7L1125.2 1264.1L1128.2 1264.6L1131.1 1265.2L1134.1 1265.9L1137 1266.6L1139.9 1267.6L1142.7 1268.6L1145.5 1269.9L1148.1 1271.4L1150.5 1273.1L1152.6 1275.3L1153.9 1278L1154 1278.7M1107.1 1237.3L1110.1 1237.3L1113.1 1237.3L1116.1 1237.4L1119.2 1237.5L1122.2 1237.6L1125.2 1237.8L1128.2 1237.9L1131.2 1238.2L1134.2 1238.4L1135.6 1238.5M1147.4 1239.8L1150.5 1240.2L1153.4 1240.6L1156.4 1241.1L1159.4 1241.6L1162.3 1242.1L1165.3 1242.7L1168.3 1243.3L1171.3 1243.9L1173.5 1244.5M1184.1 1247.3L1187 1248.2L1189.9 1249.1L1192.7 1250.1L1195.5 1251.2L1198.3 1252.3L1201.1 1253.5L1203.8 1254.8L1206.5 1256.2L1206.9 1256.4M1215.6 1262L1217.9 1264L1220.1 1266.1L1222 1268.4L1223.8 1270.9L1225.1 1273.6L1226 1276.7L1226.2 1278.1M1107.1 1214.8L1110.1 1214.8L1111.3 1214.8M1123.8 1215.1L1126.8 1215.2L1127.9 1215.2M1140.1 1215.8L1143.1 1216.1L1144.1 1216.1M1156.2 1217.2L1159.2 1217.5L1160 1217.6M1171.7 1219L1174.7 1219.4L1175.4 1219.5M1186.9 1221.3L1189.9 1221.8L1190.5 1221.9M1201.7 1224.1L1204.6 1224.8L1205.2 1224.9M1216.3 1227.6L1219.2 1228.4L1219.8 1228.6M1230.4 1231.8L1233.2 1232.7L1233.9 1232.9M1243.8 1236.6L1246.6 1237.7L1247.1 1237.9M1256.7 1242.4L1259.4 1243.8L1259.7 1243.9M1268.6 1249.3L1271.1 1251L1271.4 1251.2M1279.4 1258.1L1281.5 1260.3L1281.8 1260.7M1287.8 1270L1288.8 1272.9L1289 1273.8"/><path d="M1154 1278.7L1154.1 1279M1226.2 1278.1L1226.2 1278.7"/></g>
<path fill="#000" fill-rule="evenodd" d="M1086.86 878.02H1534.86V946.68H1086.86ZM1091.21 882.52H1530.51V942.08H1091.21Z"/>
<text x="1310.86" y="924.72" font-size="35.6" text-anchor="middle" fill="#000">participant 10</text>
<line x1="1086.86" y1="1295.65" x2="1534.86" y2="1295.65" stroke="#000" stroke-width="4.24"/>
<line x1="1107.07" y1="1295.65" x2="1107.07" y2="1306.45" stroke="#333" stroke-width="4.24"/>
<text transform="translate(1107.07 1347) scale(0.985 1.04)" font-size="43.7" text-anchor="middle" fill="#4d4d4d">0</text>
<line x1="1229.17" y1="1295.65" x2="1229.17" y2="1306.45" stroke="#333" stroke-width="4.24"/>
<text transform="translate(1229.17 1347) scale(0.985 1.04)" font-size="43.7" text-anchor="middle" fill="#4d4d4d">3</text>
<line x1="1351.27" y1="1295.65" x2="1351.27" y2="1306.45" stroke="#333" stroke-width="4.24"/>
<text transform="translate(1351.27 1347) scale(0.985 1.04)" font-size="43.7" text-anchor="middle" fill="#4d4d4d">6</text>
<line x1="1473.37" y1="1295.65" x2="1473.37" y2="1306.45" stroke="#333" stroke-width="4.24"/>
<text transform="translate(1473.37 1347) scale(0.985 1.04)" font-size="43.7" text-anchor="middle" fill="#4d4d4d">9</text>
<g clip-path="url(#k9)"><rect x="1571" y="953" width="418" height="335" fill="url(#g9_0)"/><rect x="1571" y="965.14" width="418" height="325.86" fill="url(#g9_1)"/><rect x="1571" y="977.32" width="418" height="313.68" fill="url(#g9_2)"/><rect x="1571" y="986.46" width="418" height="304.54" fill="url(#g9_3)"/><rect x="1571" y="998.65" width="418" height="292.35" fill="url(#g9_4)"/><rect x="1571" y="1007.79" width="418" height="283.21" fill="url(#g9_5)"/><rect x="1571" y="1019.97" width="418" height="271.03" fill="url(#g9_6)"/><rect x="1571" y="1029.11" width="418" height="261.89" fill="url(#g9_7)"/><rect x="1571" y="1041.3" width="418" height="249.7" fill="url(#g9_8)"/><rect x="1571" y="1050.44" width="418" height="240.56" fill="url(#g9_9)"/><rect x="1571" y="1062.62" width="418" height="228.38" fill="url(#g9_10)"/><rect x="1571" y="1071.76" width="418" height="219.24" fill="url(#g9_11)"/><rect x="1571" y="1083.94" width="418" height="207.06" fill="url(#g9_12)"/><rect x="1571" y="1093.08" width="418" height="197.92" fill="url(#g9_13)"/><rect x="1571" y="1105.27" width="418" height="185.73" fill="url(#g9_14)"/><rect x="1571" y="1114.41" width="418" height="176.59" fill="url(#g9_15)"/><rect x="1571" y="1126.59" width="418" height="164.41" fill="url(#g9_16)"/><rect x="1571" y="1135.73" width="418" height="155.27" fill="url(#g9_17)"/><rect x="1571" y="1147.92" width="418" height="143.08" fill="url(#g9_18)"/><rect x="1571" y="1157.06" width="418" height="133.94" fill="url(#g9_19)"/><rect x="1571" y="1169.24" width="418" height="121.76" fill="url(#g9_20)"/><rect x="1571" y="1178.38" width="418" height="112.62" fill="url(#g9_21)"/><rect x="1571" y="1190.56" width="418" height="100.44" fill="url(#g9_22)"/><rect x="1571" y="1199.7" width="418" height="91.3" fill="url(#g9_23)"/><rect x="1571" y="1211.89" width="418" height="79.11" fill="url(#g9_24)"/><rect x="1571" y="1221.03" width="418" height="69.97" fill="url(#g9_25)"/><rect x="1571" y="1233.21" width="418" height="57.79" fill="url(#g9_26)"/><rect x="1571" y="1242.35" width="418" height="48.65" fill="url(#g9_27)"/><rect x="1571" y="1254.54" width="418" height="36.46" fill="url(#g9_28)"/><rect x="1571" y="1263.68" width="418" height="27.32" fill="url(#g9_29)"/><rect x="1571" y="1275.86" width="418" height="15.14" fill="url(#g9_30)"/></g>
<g fill="none" stroke="#000" stroke-width="4.242" stroke-linejoin="round"><path stroke-linecap="round" d="M1576.4 1207.6L1579.5 1207.6L1582.5 1207.8L1585.5 1208.1L1588.5 1208.5L1591.5 1209L1594.4 1209.6L1597.4 1210.3L1600.3 1211.2L1603.1 1212.1L1605.9 1213.2L1608.8 1214.4L1611.5 1215.6L1614.2 1217L1616.8 1218.5L1619.4 1220.1L1621.9 1221.8L1624.3 1223.5L1626.7 1225.4L1629 1227.4L1631.2 1229.4L1633.3 1231.6L1635.3 1233.8L1637.3 1236.1L1639.1 1238.5L1640.9 1241L1642.5 1243.5L1644 1246.2L1645.5 1248.9L1646.8 1251.6L1648 1254.4L1649 1257.3L1649.9 1260.2L1650.8 1263.2L1651.5 1266.4L1652 1269.4L1652.4 1272.7L1652.6 1275.8L1652.7 1276.6M1576.4 1133.9L1579.5 1134L1582.5 1134.1L1585.5 1134.2L1588.5 1134.4L1591.5 1134.6L1594.5 1135L1597.5 1135.3L1600.5 1135.7L1603.5 1136.2L1604.4 1136.4M1615.4 1138.7L1618.4 1139.4L1621.3 1140.2L1624.2 1141.1L1627.1 1142L1629.9 1143L1632.8 1144L1635.6 1145.1L1638.4 1146.2L1639.2 1146.5M1648.8 1150.9L1651.5 1152.3L1654.1 1153.7L1656.7 1155.2L1659.3 1156.7L1661.9 1158.3L1664.5 1159.9L1667 1161.6L1669.2 1163.1M1677.4 1169.3L1679.7 1171.3L1682 1173.2L1684.2 1175.3L1686.4 1177.3L1688.6 1179.4L1690.7 1181.6L1692.8 1183.8L1694.8 1186M1701.6 1194.3L1703.5 1196.7L1705.2 1199.2L1706.9 1201.7L1708.6 1204.2L1710.2 1206.8L1711.8 1209.4L1713.3 1212L1714.7 1214.7L1715.6 1216.3M1720.5 1227L1721.6 1229.9L1722.7 1232.7L1723.7 1235.6L1724.6 1238.5L1725.5 1241.5L1726.3 1244.5L1727.1 1247.4L1727.8 1250.4L1728.4 1253.4L1728.5 1253.8M1730.2 1266.4L1730.5 1269.8L1730.7 1273.3L1730.8 1275.4M1576.4 1063.2L1579.5 1063.2L1580.6 1063.2M1592.8 1063.8L1595.8 1064L1596.7 1064.1M1608.6 1065.3L1611.6 1065.8L1612.4 1065.9M1623.7 1067.8L1626.6 1068.5L1627.2 1068.6M1638.1 1071.2L1641 1071.9L1641.5 1072.1M1651.9 1075.2L1654.7 1076.2L1655 1076.3M1665.1 1080L1667.9 1081.1L1668.3 1081.3M1677.9 1085.5L1680.7 1086.8L1681.1 1087M1690 1091.5L1692.6 1093L1693 1093.2M1702.1 1098.5L1704.6 1100.1L1704.9 1100.3M1713.5 1106L1716 1107.8L1716.2 1107.9M1724.5 1114.2L1726.9 1116.1L1727.2 1116.4M1735 1123.2L1737.3 1125.2L1737.5 1125.4M1744.9 1132.6L1747.1 1134.8L1747.3 1135.1M1754.5 1143.1L1756.5 1145.4L1756.7 1145.7M1763.5 1154.2L1765.3 1156.6L1765.6 1157M1772 1166.3L1773.7 1168.9L1774 1169.3M1779.8 1179.2L1781.2 1181.9L1781.6 1182.5M1786.8 1193L1788.1 1195.8L1788.4 1196.5M1792.9 1207.5L1793.9 1210.4L1794.2 1211.2M1797.9 1222.8L1798.7 1225.7L1799 1226.6M1801.8 1238.7L1802.4 1241.8L1802.6 1242.4M1804.5 1255.3L1804.9 1258.6L1804.9 1259M1805.8 1271.9L1805.9 1274.5"/><path d="M1652.7 1276.6L1652.7 1277.8M1730.8 1275.4L1730.9 1277.1M1805.9 1274.5L1805.9 1275.9"/></g>
<path fill="#000" fill-rule="evenodd" d="M1556.19 878.02H2004.19V946.68H1556.19ZM1560.54 882.52H1999.84V942.08H1560.54Z"/>
<text x="1780.19" y="924.72" font-size="35.6" text-anchor="middle" fill="#000">mean model</text>
<line x1="1556.19" y1="1295.65" x2="2004.19" y2="1295.65" stroke="#000" stroke-width="4.24"/>
<line x1="1576.4" y1="1295.65" x2="1576.4" y2="1306.45" stroke="#333" stroke-width="4.24"/>
<text transform="translate(1576.4 1347) scale(0.985 1.04)" font-size="43.7" text-anchor="middle" fill="#4d4d4d">0</text>
<line x1="1698.5" y1="1295.65" x2="1698.5" y2="1306.45" stroke="#333" stroke-width="4.24"/>
<text transform="translate(1698.5 1347) scale(0.985 1.04)" font-size="43.7" text-anchor="middle" fill="#4d4d4d">3</text>
<line x1="1820.6" y1="1295.65" x2="1820.6" y2="1306.45" stroke="#333" stroke-width="4.24"/>
<text transform="translate(1820.6 1347) scale(0.985 1.04)" font-size="43.7" text-anchor="middle" fill="#4d4d4d">6</text>
<line x1="1942.7" y1="1295.65" x2="1942.7" y2="1306.45" stroke="#333" stroke-width="4.24"/>
<text transform="translate(1942.7 1347) scale(0.985 1.04)" font-size="43.7" text-anchor="middle" fill="#4d4d4d">9</text>
<text x="1076.6" y="1399.7" font-size="47.6" text-anchor="middle" fill="#000">Displacement (deg)</text>
<text transform="translate(35.4 682) rotate(-90)" font-size="47.6" text-anchor="middle" fill="#000">Slippage (deg/s)</text>
<text transform="translate(1662.6 223) scale(0.987 1)" font-size="43.7" fill="#000">Predicted task</text>
<text transform="translate(1662.6 270.2) scale(0.987 1)" font-size="43.7" fill="#000">accuracy</text>
<rect x="1662" y="296.1" width="69" height="339.5" fill="url(#cb)"/>
<text transform="translate(1752.5 357.5) scale(0.985 1.035)" font-size="43.7" text-anchor="start" fill="#000">.9</text>
<text transform="translate(1752.5 447.9) scale(0.985 1.035)" font-size="43.7" text-anchor="start" fill="#000">.7</text>
<text transform="translate(1752.5 538.3) scale(0.985 1.035)" font-size="43.7" text-anchor="start" fill="#000">.5</text>
<text transform="translate(1752.5 651.3) scale(0.985 1.035)" font-size="43.7" text-anchor="start" fill="#000">.25</text>
<path d="M1662 342.1h13.8M1717.2 342.1h13.8M1662 432.5h13.8M1717.2 432.5h13.8M1662 522.9h13.8M1717.2 522.9h13.8M1662 635.9h13.8M1717.2 635.9h13.8" stroke="#fff" stroke-width="1.9" fill="none"/>
<text x="1824.2" y="357.2" font-size="43.7" fill="#000" stroke="#000" stroke-width="0.5">–—</text>
<text x="1824.2" y="447.9" font-size="43.7" fill="#000" stroke="#000" stroke-width="0.5" xml:space="preserve">– –</text>
<text transform="translate(1823.1 533.7) scale(1.14 0.96)" font-size="43.7" fill="#000" letter-spacing="-3.95">·····</text>
</svg>
</body></html>
